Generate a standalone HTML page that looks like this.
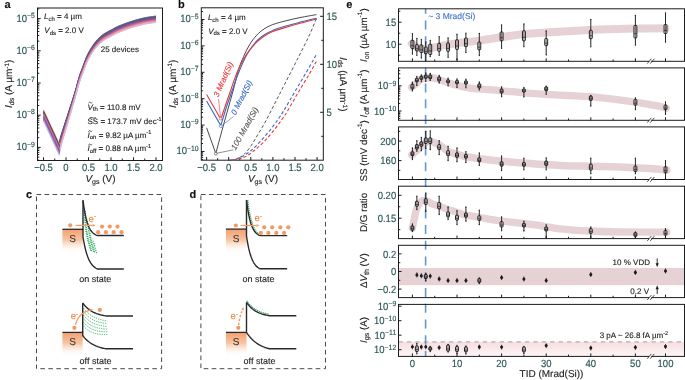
<!DOCTYPE html>
<html><head><meta charset="utf-8"><style>
html,body{margin:0;padding:0;background:#fff;}
svg{display:block;font-family:"Liberation Sans", sans-serif;will-change:transform;text-rendering:geometricPrecision;}
</style></head><body>
<svg width="685" height="380" viewBox="0 0 685 380">
<rect width="685" height="380" fill="#fff"/>
<path d="M59.3,143.73 C59.56,142.4 59.47,140.71 60.91,135.72 C62.36,130.73 65.62,121.16 67.98,113.8 C70.34,106.43 73.2,97.78 75.09,91.55 C76.98,85.32 77.82,81.12 79.32,76.41 C80.82,71.71 82.78,66.81 84.09,63.31 C85.4,59.81 85.96,58.05 87.19,55.42 C88.43,52.79 89.83,50.16 91.52,47.53 C93.2,44.89 95.27,41.88 97.32,39.61 C99.37,37.34 101.52,35.5 103.8,33.91 C106.08,32.31 108.72,31.27 111,30.04 C113.28,28.82 114.19,27.96 117.48,26.53 C120.76,25.11 126.32,22.95 130.71,21.51 C135.1,20.07 139.59,18.82 143.81,17.9 C148.02,16.99 153.97,16.32 156,16" fill="none" stroke="rgb(115, 115, 135)" stroke-width="1" stroke-opacity="0.9"/>
<path d="M59.3,144.21 C59.56,142.87 59.47,141.18 60.91,136.18 C62.36,131.17 65.62,121.55 67.98,114.16 C70.34,106.76 73.2,98.06 75.09,91.82 C76.98,85.57 77.82,81.39 79.32,76.68 C80.82,71.98 82.78,67.08 84.09,63.58 C85.4,60.08 85.96,58.32 87.19,55.69 C88.43,53.06 89.83,50.43 91.52,47.8 C93.2,45.16 95.27,42.15 97.32,39.88 C99.37,37.61 101.52,35.77 103.8,34.18 C106.08,32.58 108.72,31.54 111,30.31 C113.28,29.09 114.19,28.23 117.48,26.81 C120.76,25.38 126.32,23.22 130.71,21.78 C135.1,20.34 139.59,19.09 143.81,18.18 C148.02,17.26 153.97,16.59 156,16.28" fill="none" stroke="rgb(106, 106, 130)" stroke-width="1" stroke-opacity="0.9"/>
<path d="M59.3,144.68 C59.56,143.34 59.47,141.66 60.91,136.63 C62.36,131.6 65.62,121.94 67.98,114.52 C70.34,107.1 73.2,98.35 75.09,92.09 C76.98,85.83 77.82,81.66 79.32,76.95 C80.82,72.25 82.78,67.35 84.09,63.85 C85.4,60.35 85.96,58.59 87.19,55.96 C88.43,53.33 89.83,50.71 91.52,48.07 C93.2,45.44 95.27,42.42 97.32,40.15 C99.37,37.88 101.52,36.04 103.8,34.45 C106.08,32.86 108.72,31.81 111,30.59 C113.28,29.36 114.19,28.5 117.48,27.08 C120.76,25.65 126.32,23.49 130.71,22.05 C135.1,20.61 139.59,19.36 143.81,18.45 C148.02,17.53 153.97,16.86 156,16.55" fill="none" stroke="rgb(98, 98, 125)" stroke-width="1" stroke-opacity="0.9"/>
<path d="M59.3,145.16 C59.56,143.81 59.47,142.13 60.91,137.08 C62.36,132.04 65.62,122.34 67.98,114.88 C70.34,107.43 73.2,98.63 75.09,92.36 C76.98,86.08 77.82,81.93 79.32,77.22 C80.82,72.52 82.78,67.62 84.09,64.12 C85.4,60.62 85.96,58.86 87.19,56.23 C88.43,53.6 89.83,50.98 91.52,48.34 C93.2,45.71 95.27,42.69 97.32,40.42 C99.37,38.15 101.52,36.31 103.8,34.72 C106.08,33.13 108.72,32.09 111,30.86 C113.28,29.63 114.19,28.77 117.48,27.35 C120.76,25.92 126.32,23.76 130.71,22.32 C135.1,20.89 139.59,19.63 143.81,18.72 C148.02,17.8 153.97,17.13 156,16.82" fill="none" stroke="rgb(90, 90, 120)" stroke-width="1" stroke-opacity="0.9"/>
<path d="M59.3,145.63 C59.56,144.28 59.47,142.6 60.91,137.54 C62.36,132.47 65.62,122.73 67.98,115.24 C70.34,107.76 73.2,98.92 75.09,92.63 C76.98,86.34 77.82,82.2 79.32,77.5 C80.82,72.79 82.78,67.89 84.09,64.39 C85.4,60.89 85.96,59.13 87.19,56.5 C88.43,53.87 89.83,51.25 91.52,48.61 C93.2,45.98 95.27,42.96 97.32,40.69 C99.37,38.42 101.52,36.59 103.8,34.99 C106.08,33.4 108.72,32.36 111,31.13 C113.28,29.9 114.19,29.04 117.48,27.62 C120.76,26.2 126.32,24.03 130.71,22.59 C135.1,21.16 139.59,19.91 143.81,18.99 C148.02,18.07 153.97,17.4 156,17.09" fill="none" stroke="rgb(86, 85, 120)" stroke-width="1" stroke-opacity="0.9"/>
<path d="M59.3,146.11 C59.56,144.75 59.47,143.08 60.91,137.99 C62.36,132.91 65.62,123.12 67.98,115.61 C70.34,108.09 73.2,99.21 75.09,92.9 C76.98,86.59 77.82,82.47 79.32,77.77 C80.82,73.06 82.78,68.16 84.09,64.66 C85.4,61.16 85.96,59.4 87.19,56.77 C88.43,54.14 89.83,51.52 91.52,48.88 C93.2,46.25 95.27,43.23 97.32,40.96 C99.37,38.69 101.52,36.86 103.8,35.26 C106.08,33.67 108.72,32.63 111,31.4 C113.28,30.17 114.19,29.31 117.48,27.89 C120.76,26.47 126.32,24.3 130.71,22.87 C135.1,21.43 139.59,20.18 143.81,19.26 C148.02,18.34 153.97,17.68 156,17.36" fill="none" stroke="rgb(90, 85, 127)" stroke-width="1" stroke-opacity="0.9"/>
<path d="M59.3,146.58 C59.56,145.23 59.47,143.55 60.91,138.45 C62.36,133.34 65.62,123.52 67.98,115.97 C70.34,108.42 73.2,99.49 75.09,93.17 C76.98,86.85 77.82,82.74 79.32,78.04 C80.82,73.33 82.78,68.43 84.09,64.93 C85.4,61.43 85.96,59.67 87.19,57.04 C88.43,54.41 89.83,51.79 91.52,49.15 C93.2,46.52 95.27,43.5 97.32,41.23 C99.37,38.96 101.52,37.13 103.8,35.53 C106.08,33.94 108.72,32.9 111,31.67 C113.28,30.44 114.19,29.58 117.48,28.16 C120.76,26.74 126.32,24.57 130.71,23.14 C135.1,21.7 139.59,20.45 143.81,19.53 C148.02,18.61 153.97,17.95 156,17.63" fill="none" stroke="rgb(95, 85, 134)" stroke-width="1" stroke-opacity="0.9"/>
<path d="M59.3,147.06 C59.56,145.7 59.47,144.02 60.91,138.9 C62.36,133.78 65.62,123.91 67.98,116.33 C70.34,108.76 73.2,99.78 75.09,93.44 C76.98,87.1 77.82,83.01 79.32,78.31 C80.82,73.6 82.78,68.7 84.09,65.2 C85.4,61.7 85.96,59.94 87.19,57.31 C88.43,54.68 89.83,52.06 91.52,49.42 C93.2,46.79 95.27,43.77 97.32,41.5 C99.37,39.23 101.52,37.4 103.8,35.8 C106.08,34.21 108.72,33.17 111,31.94 C113.28,30.71 114.19,29.85 117.48,28.43 C120.76,27.01 126.32,24.85 130.71,23.41 C135.1,21.97 139.59,20.72 143.81,19.8 C148.02,18.88 153.97,18.22 156,17.9" fill="none" stroke="rgb(99, 85, 140)" stroke-width="1" stroke-opacity="0.9"/>
<path d="M59.3,147.53 C59.56,146.17 59.47,144.49 60.91,139.35 C62.36,134.21 65.62,124.3 67.98,116.69 C70.34,109.09 73.2,100.07 75.09,93.71 C76.98,87.36 77.82,83.29 79.32,78.58 C80.82,73.87 82.78,68.97 84.09,65.47 C85.4,61.97 85.96,60.21 87.19,57.58 C88.43,54.95 89.83,52.33 91.52,49.7 C93.2,47.06 95.27,44.04 97.32,41.77 C99.37,39.5 101.52,37.67 103.8,36.07 C106.08,34.48 108.72,33.44 111,32.21 C113.28,30.98 114.19,30.12 117.48,28.7 C120.76,27.28 126.32,25.12 130.71,23.68 C135.1,22.24 139.59,20.99 143.81,20.07 C148.02,19.15 153.97,18.49 156,18.17" fill="none" stroke="rgb(103, 85, 147)" stroke-width="1" stroke-opacity="0.9"/>
<path d="M59.3,148.01 C59.56,146.64 59.47,144.97 60.91,139.81 C62.36,134.65 65.62,124.69 67.98,117.06 C70.34,109.42 73.2,100.35 75.09,93.98 C76.98,87.62 77.82,83.56 79.32,78.85 C80.82,74.14 82.78,69.24 84.09,65.74 C85.4,62.25 85.96,60.48 87.19,57.86 C88.43,55.23 89.83,52.6 91.52,49.97 C93.2,47.33 95.27,44.31 97.32,42.04 C99.37,39.77 101.52,37.94 103.8,36.35 C106.08,34.75 108.72,33.71 111,32.48 C113.28,31.25 114.19,30.39 117.48,28.97 C120.76,27.55 126.32,25.39 130.71,23.95 C135.1,22.51 139.59,21.26 143.81,20.34 C148.02,19.42 153.97,18.76 156,18.44" fill="none" stroke="rgb(110, 85, 152)" stroke-width="1" stroke-opacity="0.9"/>
<path d="M59.3,148.48 C59.56,147.11 59.47,145.44 60.91,140.26 C62.36,135.08 65.62,125.09 67.98,117.42 C70.34,109.75 73.2,100.64 75.09,94.25 C76.98,87.87 77.82,83.83 79.32,79.12 C80.82,74.41 82.78,69.51 84.09,66.01 C85.4,62.52 85.96,60.76 87.19,58.13 C88.43,55.5 89.83,52.87 91.52,50.24 C93.2,47.6 95.27,44.59 97.32,42.32 C99.37,40.05 101.52,38.21 103.8,36.62 C106.08,35.02 108.72,33.98 111,32.75 C113.28,31.52 114.19,30.66 117.48,29.24 C120.76,27.82 126.32,25.66 130.71,24.22 C135.1,22.78 139.59,21.53 143.81,20.61 C148.02,19.7 153.97,19.03 156,18.71" fill="none" stroke="rgb(118, 87, 156)" stroke-width="1" stroke-opacity="0.9"/>
<path d="M59.3,148.96 C59.56,147.58 59.47,145.91 60.91,140.72 C62.36,135.52 65.62,125.48 67.98,117.78 C70.34,110.08 73.2,100.92 75.09,94.53 C76.98,88.13 77.82,84.1 79.32,79.39 C80.82,74.68 82.78,69.78 84.09,66.29 C85.4,62.79 85.96,61.03 87.19,58.4 C88.43,55.77 89.83,53.14 91.52,50.51 C93.2,47.87 95.27,44.86 97.32,42.59 C99.37,40.32 101.52,38.48 103.8,36.89 C106.08,35.29 108.72,34.25 111,33.02 C113.28,31.79 114.19,30.94 117.48,29.51 C120.76,28.09 126.32,25.93 130.71,24.49 C135.1,23.05 139.59,21.8 143.81,20.88 C148.02,19.97 153.97,19.3 156,18.98" fill="none" stroke="rgb(126, 88, 160)" stroke-width="1" stroke-opacity="0.9"/>
<path d="M59.3,149.43 C59.56,148.06 59.47,146.38 60.91,141.17 C62.36,135.96 65.62,125.87 67.98,118.14 C70.34,110.42 73.2,101.21 75.09,94.8 C76.98,88.38 77.82,84.37 79.32,79.66 C80.82,74.96 82.78,70.06 84.09,66.56 C85.4,63.06 85.96,61.3 87.19,58.67 C88.43,56.04 89.83,53.41 91.52,50.78 C93.2,48.14 95.27,45.13 97.32,42.86 C99.37,40.59 101.52,38.75 103.8,37.16 C106.08,35.56 108.72,34.52 111,33.29 C113.28,32.07 114.19,31.21 117.48,29.78 C120.76,28.36 126.32,26.2 130.71,24.76 C135.1,23.32 139.59,22.07 143.81,21.15 C148.02,20.24 153.97,19.57 156,19.25" fill="none" stroke="rgb(135, 90, 165)" stroke-width="1" stroke-opacity="0.9"/>
<path d="M59.3,149.91 C59.56,148.53 59.47,146.86 60.91,141.62 C62.36,136.39 65.62,126.27 67.98,118.51 C70.34,110.75 73.2,101.5 75.09,95.07 C76.98,88.64 77.82,84.64 79.32,79.93 C80.82,75.23 82.78,70.33 84.09,66.83 C85.4,63.33 85.96,61.57 87.19,58.94 C88.43,56.31 89.83,53.68 91.52,51.05 C93.2,48.41 95.27,45.4 97.32,43.13 C99.37,40.86 101.52,39.02 103.8,37.43 C106.08,35.83 108.72,34.79 111,33.56 C113.28,32.34 114.19,31.48 117.48,30.06 C120.76,28.63 126.32,26.47 130.71,25.03 C135.1,23.59 139.59,22.34 143.81,21.43 C148.02,20.51 153.97,19.84 156,19.53" fill="none" stroke="rgb(157, 93, 159)" stroke-width="1" stroke-opacity="0.9"/>
<path d="M59.3,150.38 C59.56,149 59.47,147.33 60.91,142.08 C62.36,136.83 65.62,126.66 67.98,118.87 C70.34,111.08 73.2,101.78 75.09,95.34 C76.98,88.89 77.82,84.91 79.32,80.2 C80.82,75.5 82.78,70.6 84.09,67.1 C85.4,63.6 85.96,61.84 87.19,59.21 C88.43,56.58 89.83,53.96 91.52,51.32 C93.2,48.69 95.27,45.67 97.32,43.4 C99.37,41.13 101.52,39.29 103.8,37.7 C106.08,36.11 108.72,35.06 111,33.84 C113.28,32.61 114.19,31.75 117.48,30.33 C120.76,28.9 126.32,26.74 130.71,25.3 C135.1,23.86 139.59,22.61 143.81,21.7 C148.02,20.78 153.97,20.11 156,19.8" fill="none" stroke="rgb(180, 96, 154)" stroke-width="1" stroke-opacity="0.9"/>
<path d="M59.3,150.86 C59.56,149.47 59.47,147.8 60.91,142.53 C62.36,137.26 65.62,127.05 67.98,119.23 C70.34,111.41 73.2,102.07 75.09,95.61 C76.98,89.15 77.82,85.18 79.32,80.47 C80.82,75.77 82.78,70.87 84.09,67.37 C85.4,63.87 85.96,62.11 87.19,59.48 C88.43,56.85 89.83,54.23 91.52,51.59 C93.2,48.96 95.27,45.94 97.32,43.67 C99.37,41.4 101.52,39.56 103.8,37.97 C106.08,36.38 108.72,35.34 111,34.11 C113.28,32.88 114.19,32.02 117.48,30.6 C120.76,29.17 126.32,27.01 130.71,25.57 C135.1,24.14 139.59,22.88 143.81,21.97 C148.02,21.05 153.97,20.38 156,20.07" fill="none" stroke="rgb(201, 100, 149)" stroke-width="1" stroke-opacity="0.9"/>
<path d="M59.3,151.33 C59.56,149.94 59.47,148.28 60.91,142.99 C62.36,137.7 65.62,127.44 67.98,119.59 C70.34,111.74 73.2,102.35 75.09,95.88 C76.98,89.4 77.82,85.45 79.32,80.75 C80.82,76.04 82.78,71.14 84.09,67.64 C85.4,64.14 85.96,62.38 87.19,59.75 C88.43,57.12 89.83,54.5 91.52,51.86 C93.2,49.23 95.27,46.21 97.32,43.94 C99.37,41.67 101.52,39.84 103.8,38.24 C106.08,36.65 108.72,35.61 111,34.38 C113.28,33.15 114.19,32.29 117.48,30.87 C120.76,29.45 126.32,27.28 130.71,25.84 C135.1,24.41 139.59,23.16 143.81,22.24 C148.02,21.32 153.97,20.65 156,20.34" fill="none" stroke="rgb(214, 108, 142)" stroke-width="1" stroke-opacity="0.9"/>
<path d="M59.3,151.81 C59.56,150.41 59.47,148.75 60.91,143.44 C62.36,138.13 65.62,127.84 67.98,119.96 C70.34,112.07 73.2,102.64 75.09,96.15 C76.98,89.66 77.82,85.72 79.32,81.02 C80.82,76.31 82.78,71.41 84.09,67.91 C85.4,64.41 85.96,62.65 87.19,60.02 C88.43,57.39 89.83,54.77 91.52,52.13 C93.2,49.5 95.27,46.48 97.32,44.21 C99.37,41.94 101.52,40.11 103.8,38.51 C106.08,36.92 108.72,35.88 111,34.65 C113.28,33.42 114.19,32.56 117.48,31.14 C120.76,29.72 126.32,27.55 130.71,26.12 C135.1,24.68 139.59,23.43 143.81,22.51 C148.02,21.59 153.97,20.93 156,20.61" fill="none" stroke="rgb(227, 116, 135)" stroke-width="1" stroke-opacity="0.9"/>
<path d="M59.3,152.28 C59.56,150.88 59.47,149.22 60.91,143.89 C62.36,138.57 65.62,128.23 67.98,120.32 C70.34,112.41 73.2,102.93 75.09,96.42 C76.98,89.92 77.82,85.99 79.32,81.29 C80.82,76.58 82.78,71.68 84.09,68.18 C85.4,64.68 85.96,62.92 87.19,60.29 C88.43,57.66 89.83,55.04 91.52,52.4 C93.2,49.77 95.27,46.75 97.32,44.48 C99.37,42.21 101.52,40.38 103.8,38.78 C106.08,37.19 108.72,36.15 111,34.92 C113.28,33.69 114.19,32.83 117.48,31.41 C120.76,29.99 126.32,27.82 130.71,26.39 C135.1,24.95 139.59,23.7 143.81,22.78 C148.02,21.86 153.97,21.2 156,20.88" fill="none" stroke="rgb(240, 125, 128)" stroke-width="1" stroke-opacity="0.9"/>
<path d="M59.3,152.76 C59.56,151.36 59.47,149.69 60.91,144.35 C62.36,139 65.62,128.62 67.98,120.68 C70.34,112.74 73.2,103.21 75.09,96.69 C76.98,90.17 77.82,86.26 79.32,81.56 C80.82,76.85 82.78,71.95 84.09,68.45 C85.4,64.95 85.96,63.19 87.19,60.56 C88.43,57.93 89.83,55.31 91.52,52.67 C93.2,50.04 95.27,47.02 97.32,44.75 C99.37,42.48 101.52,40.65 103.8,39.05 C106.08,37.46 108.72,36.42 111,35.19 C113.28,33.96 114.19,33.1 117.48,31.68 C120.76,30.26 126.32,28.1 130.71,26.66 C135.1,25.22 139.59,23.97 143.81,23.05 C148.02,22.13 153.97,21.47 156,21.15" fill="none" stroke="rgb(241, 136, 135)" stroke-width="1" stroke-opacity="0.9"/>
<path d="M59.3,153.23 C59.56,151.83 59.47,150.17 60.91,144.8 C62.36,139.44 65.62,129.02 67.98,121.04 C70.34,113.07 73.2,103.5 75.09,96.96 C76.98,90.43 77.82,86.54 79.32,81.83 C80.82,77.12 82.78,72.22 84.09,68.72 C85.4,65.22 85.96,63.46 87.19,60.83 C88.43,58.2 89.83,55.58 91.52,52.95 C93.2,50.31 95.27,47.29 97.32,45.02 C99.37,42.75 101.52,40.92 103.8,39.32 C106.08,37.73 108.72,36.69 111,35.46 C113.28,34.23 114.19,33.37 117.48,31.95 C120.76,30.53 126.32,28.37 130.71,26.93 C135.1,25.49 139.59,24.24 143.81,23.32 C148.02,22.4 153.97,21.74 156,21.42" fill="none" stroke="rgb(243, 148, 142)" stroke-width="1" stroke-opacity="0.9"/>
<path d="M59.3,153.71 C59.56,152.3 59.47,150.64 60.91,145.26 C62.36,139.87 65.62,129.41 67.98,121.41 C70.34,113.4 73.2,103.78 75.09,97.23 C76.98,90.68 77.82,86.81 79.32,82.1 C80.82,77.39 82.78,72.49 84.09,68.99 C85.4,65.5 85.96,63.73 87.19,61.11 C88.43,58.48 89.83,55.85 91.52,53.22 C93.2,50.58 95.27,47.56 97.32,45.29 C99.37,43.02 101.52,41.19 103.8,39.6 C106.08,38 108.72,36.96 111,35.73 C113.28,34.5 114.19,33.64 117.48,32.22 C120.76,30.8 126.32,28.64 130.71,27.2 C135.1,25.76 139.59,24.51 143.81,23.59 C148.02,22.67 153.97,22.01 156,21.69" fill="none" stroke="rgb(245, 160, 149)" stroke-width="1" stroke-opacity="0.9"/>
<path d="M59.3,154.18 C59.56,152.77 59.47,151.11 60.91,145.71 C62.36,140.31 65.62,129.8 67.98,121.77 C70.34,113.73 73.2,104.07 75.09,97.5 C76.98,90.94 77.82,87.08 79.32,82.37 C80.82,77.66 82.78,72.76 84.09,69.26 C85.4,65.77 85.96,64.01 87.19,61.38 C88.43,58.75 89.83,56.12 91.52,53.49 C93.2,50.85 95.27,47.84 97.32,45.57 C99.37,43.3 101.52,41.46 103.8,39.87 C106.08,38.27 108.72,37.23 111,36 C113.28,34.77 114.19,33.91 117.48,32.49 C120.76,31.07 126.32,28.91 130.71,27.47 C135.1,26.03 139.59,24.78 143.81,23.86 C148.02,22.95 153.97,22.28 156,21.96" fill="none" stroke="rgb(233, 170, 177)" stroke-width="1" stroke-opacity="0.9"/>
<path d="M59.3,154.66 C59.56,153.24 59.47,151.59 60.91,146.16 C62.36,140.74 65.62,130.2 67.98,122.13 C70.34,114.07 73.2,104.36 75.09,97.78 C76.98,91.19 77.82,87.35 79.32,82.64 C80.82,77.93 82.78,73.03 84.09,69.54 C85.4,66.04 85.96,64.28 87.19,61.65 C88.43,59.02 89.83,56.39 91.52,53.76 C93.2,51.12 95.27,48.11 97.32,45.84 C99.37,43.57 101.52,41.73 103.8,40.14 C106.08,38.54 108.72,37.5 111,36.27 C113.28,35.04 114.19,34.19 117.48,32.76 C120.76,31.34 126.32,29.18 130.71,27.74 C135.1,26.3 139.59,25.05 143.81,24.13 C148.02,23.22 153.97,22.55 156,22.23" fill="none" stroke="rgb(219, 180, 208)" stroke-width="1" stroke-opacity="0.9"/>
<path d="M59.3,155.13 C59.56,153.71 59.47,152.06 60.91,146.62 C62.36,141.18 65.62,130.59 67.98,122.49 C70.34,114.4 73.2,104.64 75.09,98.05 C76.98,91.45 77.82,87.62 79.32,82.91 C80.82,78.21 82.78,73.31 84.09,69.81 C85.4,66.31 85.96,64.55 87.19,61.92 C88.43,59.29 89.83,56.66 91.52,54.03 C93.2,51.39 95.27,48.38 97.32,46.11 C99.37,43.84 101.52,42 103.8,40.41 C106.08,38.81 108.72,37.77 111,36.54 C113.28,35.32 114.19,34.46 117.48,33.03 C120.76,31.61 126.32,29.45 130.71,28.01 C135.1,26.57 139.59,25.32 143.81,24.4 C148.02,23.49 153.97,22.82 156,22.5" fill="none" stroke="rgb(205, 190, 240)" stroke-width="1" stroke-opacity="0.9"/>
<path d="M43.5,109.6 L59.3,143.73" fill="none" stroke="rgb(246, 185, 150)" stroke-width="1" stroke-opacity="0.9"/>
<path d="M43.5,110.08 L59.3,144.21" fill="none" stroke="rgb(222, 166, 144)" stroke-width="1" stroke-opacity="0.9"/>
<path d="M43.5,110.55 L59.3,144.68" fill="none" stroke="rgb(194, 146, 138)" stroke-width="1" stroke-opacity="0.9"/>
<path d="M43.5,111.03 L59.3,145.16" fill="none" stroke="rgb(129, 106, 117)" stroke-width="1" stroke-opacity="0.9"/>
<path d="M43.5,111.5 L59.3,145.63" fill="none" stroke="rgb(75, 72, 100)" stroke-width="1" stroke-opacity="0.9"/>
<path d="M43.5,111.98 L59.3,146.11" fill="none" stroke="rgb(80, 74, 105)" stroke-width="1" stroke-opacity="0.9"/>
<path d="M43.5,112.45 L59.3,146.58" fill="none" stroke="rgb(84, 77, 109)" stroke-width="1" stroke-opacity="0.9"/>
<path d="M43.5,112.93 L59.3,147.06" fill="none" stroke="rgb(89, 79, 114)" stroke-width="1" stroke-opacity="0.9"/>
<path d="M43.5,113.4 L59.3,147.53" fill="none" stroke="rgb(127, 91, 119)" stroke-width="1" stroke-opacity="0.9"/>
<path d="M43.5,113.88 L59.3,148.01" fill="none" stroke="rgb(174, 105, 124)" stroke-width="1" stroke-opacity="0.9"/>
<path d="M43.5,114.35 L59.3,148.48" fill="none" stroke="rgb(221, 118, 129)" stroke-width="1" stroke-opacity="0.9"/>
<path d="M43.5,114.83 L59.3,148.96" fill="none" stroke="rgb(217, 114, 135)" stroke-width="1" stroke-opacity="0.9"/>
<path d="M43.5,115.3 L59.3,149.43" fill="none" stroke="rgb(209, 107, 142)" stroke-width="1" stroke-opacity="0.9"/>
<path d="M43.5,115.78 L59.3,149.91" fill="none" stroke="rgb(201, 101, 148)" stroke-width="1" stroke-opacity="0.9"/>
<path d="M43.5,116.25 L59.3,150.38" fill="none" stroke="rgb(183, 97, 153)" stroke-width="1" stroke-opacity="0.9"/>
<path d="M43.5,116.73 L59.3,150.86" fill="none" stroke="rgb(162, 94, 157)" stroke-width="1" stroke-opacity="0.9"/>
<path d="M43.5,117.2 L59.3,151.33" fill="none" stroke="rgb(141, 90, 161)" stroke-width="1" stroke-opacity="0.9"/>
<path d="M43.5,117.68 L59.3,151.81" fill="none" stroke="rgb(125, 89, 166)" stroke-width="1" stroke-opacity="0.9"/>
<path d="M43.5,118.15 L59.3,152.28" fill="none" stroke="rgb(129, 94, 171)" stroke-width="1" stroke-opacity="0.9"/>
<path d="M43.5,118.63 L59.3,152.76" fill="none" stroke="rgb(132, 99, 177)" stroke-width="1" stroke-opacity="0.9"/>
<path d="M43.5,119.1 L59.3,153.23" fill="none" stroke="rgb(136, 104, 183)" stroke-width="1" stroke-opacity="0.9"/>
<path d="M43.5,119.58 L59.3,153.71" fill="none" stroke="rgb(139, 109, 189)" stroke-width="1" stroke-opacity="0.9"/>
<path d="M43.5,120.05 L59.3,154.18" fill="none" stroke="rgb(158, 132, 205)" stroke-width="1" stroke-opacity="0.9"/>
<path d="M43.5,120.53 L59.3,154.66" fill="none" stroke="rgb(179, 158, 222)" stroke-width="1" stroke-opacity="0.9"/>
<path d="M43.5,121 L59.3,155.13" fill="none" stroke="rgb(200, 185, 240)" stroke-width="1" stroke-opacity="0.9"/>
<rect x="37.5" y="8" width="125.0" height="152.5" fill="none" stroke="#1c1c1c" stroke-width="1"/>
<line x1="43.5" y1="160.5" x2="43.5" y2="157.3" stroke="#1c1c1c" stroke-width="1" />
<text transform="translate(43.5,171.2) scale(1,1.1)" font-size="9.5" fill="#2b5656" text-anchor="middle" stroke="#2b5656" stroke-width="0.15">−0.5</text>
<line x1="54.75" y1="160.5" x2="54.75" y2="158.5" stroke="#1c1c1c" stroke-width="1" />
<line x1="66" y1="160.5" x2="66" y2="157.3" stroke="#1c1c1c" stroke-width="1" />
<text transform="translate(66,171.2) scale(1,1.1)" font-size="9.5" fill="#2b5656" text-anchor="middle" stroke="#2b5656" stroke-width="0.15">0</text>
<line x1="77.25" y1="160.5" x2="77.25" y2="158.5" stroke="#1c1c1c" stroke-width="1" />
<line x1="88.5" y1="160.5" x2="88.5" y2="157.3" stroke="#1c1c1c" stroke-width="1" />
<text transform="translate(88.5,171.2) scale(1,1.1)" font-size="9.5" fill="#2b5656" text-anchor="middle" stroke="#2b5656" stroke-width="0.15">0.5</text>
<line x1="99.75" y1="160.5" x2="99.75" y2="158.5" stroke="#1c1c1c" stroke-width="1" />
<line x1="111" y1="160.5" x2="111" y2="157.3" stroke="#1c1c1c" stroke-width="1" />
<text transform="translate(111,171.2) scale(1,1.1)" font-size="9.5" fill="#2b5656" text-anchor="middle" stroke="#2b5656" stroke-width="0.15">1.0</text>
<line x1="122.25" y1="160.5" x2="122.25" y2="158.5" stroke="#1c1c1c" stroke-width="1" />
<line x1="133.5" y1="160.5" x2="133.5" y2="157.3" stroke="#1c1c1c" stroke-width="1" />
<text transform="translate(133.5,171.2) scale(1,1.1)" font-size="9.5" fill="#2b5656" text-anchor="middle" stroke="#2b5656" stroke-width="0.15">1.5</text>
<line x1="144.75" y1="160.5" x2="144.75" y2="158.5" stroke="#1c1c1c" stroke-width="1" />
<line x1="156" y1="160.5" x2="156" y2="157.3" stroke="#1c1c1c" stroke-width="1" />
<text transform="translate(156,171.2) scale(1,1.1)" font-size="9.5" fill="#2b5656" text-anchor="middle" stroke="#2b5656" stroke-width="0.15">2.0</text>
<line x1="37.5" y1="147.4" x2="40.7" y2="147.4" stroke="#1c1c1c" stroke-width="1" />
<text transform="translate(34.8,150.3) scale(1,1.1)" font-size="9.5" fill="#2b5656" text-anchor="end" stroke="#2b5656" stroke-width="0.15"><tspan>10</tspan><tspan dy="-3.4" font-size="6.84">−9</tspan></text>
<line x1="37.5" y1="137.71" x2="39.3" y2="137.71" stroke="#1c1c1c" stroke-width="1" />
<line x1="37.5" y1="132.04" x2="39.3" y2="132.04" stroke="#1c1c1c" stroke-width="1" />
<line x1="37.5" y1="128.01" x2="39.3" y2="128.01" stroke="#1c1c1c" stroke-width="1" />
<line x1="37.5" y1="124.89" x2="39.3" y2="124.89" stroke="#1c1c1c" stroke-width="1" />
<line x1="37.5" y1="122.34" x2="39.3" y2="122.34" stroke="#1c1c1c" stroke-width="1" />
<line x1="37.5" y1="120.19" x2="39.3" y2="120.19" stroke="#1c1c1c" stroke-width="1" />
<line x1="37.5" y1="118.32" x2="39.3" y2="118.32" stroke="#1c1c1c" stroke-width="1" />
<line x1="37.5" y1="116.67" x2="39.3" y2="116.67" stroke="#1c1c1c" stroke-width="1" />
<line x1="37.5" y1="115.2" x2="40.7" y2="115.2" stroke="#1c1c1c" stroke-width="1" />
<text transform="translate(34.8,118.1) scale(1,1.1)" font-size="9.5" fill="#2b5656" text-anchor="end" stroke="#2b5656" stroke-width="0.15"><tspan>10</tspan><tspan dy="-3.4" font-size="6.84">−8</tspan></text>
<line x1="37.5" y1="105.51" x2="39.3" y2="105.51" stroke="#1c1c1c" stroke-width="1" />
<line x1="37.5" y1="99.84" x2="39.3" y2="99.84" stroke="#1c1c1c" stroke-width="1" />
<line x1="37.5" y1="95.81" x2="39.3" y2="95.81" stroke="#1c1c1c" stroke-width="1" />
<line x1="37.5" y1="92.69" x2="39.3" y2="92.69" stroke="#1c1c1c" stroke-width="1" />
<line x1="37.5" y1="90.14" x2="39.3" y2="90.14" stroke="#1c1c1c" stroke-width="1" />
<line x1="37.5" y1="87.99" x2="39.3" y2="87.99" stroke="#1c1c1c" stroke-width="1" />
<line x1="37.5" y1="86.12" x2="39.3" y2="86.12" stroke="#1c1c1c" stroke-width="1" />
<line x1="37.5" y1="84.47" x2="39.3" y2="84.47" stroke="#1c1c1c" stroke-width="1" />
<line x1="37.5" y1="83" x2="40.7" y2="83" stroke="#1c1c1c" stroke-width="1" />
<text transform="translate(34.8,85.9) scale(1,1.1)" font-size="9.5" fill="#2b5656" text-anchor="end" stroke="#2b5656" stroke-width="0.15"><tspan>10</tspan><tspan dy="-3.4" font-size="6.84">−7</tspan></text>
<line x1="37.5" y1="73.31" x2="39.3" y2="73.31" stroke="#1c1c1c" stroke-width="1" />
<line x1="37.5" y1="67.64" x2="39.3" y2="67.64" stroke="#1c1c1c" stroke-width="1" />
<line x1="37.5" y1="63.61" x2="39.3" y2="63.61" stroke="#1c1c1c" stroke-width="1" />
<line x1="37.5" y1="60.49" x2="39.3" y2="60.49" stroke="#1c1c1c" stroke-width="1" />
<line x1="37.5" y1="57.94" x2="39.3" y2="57.94" stroke="#1c1c1c" stroke-width="1" />
<line x1="37.5" y1="55.79" x2="39.3" y2="55.79" stroke="#1c1c1c" stroke-width="1" />
<line x1="37.5" y1="53.92" x2="39.3" y2="53.92" stroke="#1c1c1c" stroke-width="1" />
<line x1="37.5" y1="52.27" x2="39.3" y2="52.27" stroke="#1c1c1c" stroke-width="1" />
<line x1="37.5" y1="50.8" x2="40.7" y2="50.8" stroke="#1c1c1c" stroke-width="1" />
<text transform="translate(34.8,53.7) scale(1,1.1)" font-size="9.5" fill="#2b5656" text-anchor="end" stroke="#2b5656" stroke-width="0.15"><tspan>10</tspan><tspan dy="-3.4" font-size="6.84">−6</tspan></text>
<line x1="37.5" y1="41.11" x2="39.3" y2="41.11" stroke="#1c1c1c" stroke-width="1" />
<line x1="37.5" y1="35.44" x2="39.3" y2="35.44" stroke="#1c1c1c" stroke-width="1" />
<line x1="37.5" y1="31.41" x2="39.3" y2="31.41" stroke="#1c1c1c" stroke-width="1" />
<line x1="37.5" y1="28.29" x2="39.3" y2="28.29" stroke="#1c1c1c" stroke-width="1" />
<line x1="37.5" y1="25.74" x2="39.3" y2="25.74" stroke="#1c1c1c" stroke-width="1" />
<line x1="37.5" y1="23.59" x2="39.3" y2="23.59" stroke="#1c1c1c" stroke-width="1" />
<line x1="37.5" y1="21.72" x2="39.3" y2="21.72" stroke="#1c1c1c" stroke-width="1" />
<line x1="37.5" y1="20.07" x2="39.3" y2="20.07" stroke="#1c1c1c" stroke-width="1" />
<line x1="37.5" y1="18.6" x2="40.7" y2="18.6" stroke="#1c1c1c" stroke-width="1" />
<text transform="translate(34.8,21.5) scale(1,1.1)" font-size="9.5" fill="#2b5656" text-anchor="end" stroke="#2b5656" stroke-width="0.15"><tspan>10</tspan><tspan dy="-3.4" font-size="6.84">−5</tspan></text>
<line x1="37.5" y1="8.91" x2="39.3" y2="8.91" stroke="#1c1c1c" stroke-width="1" />
<line x1="37.5" y1="160.21" x2="39.3" y2="160.21" stroke="#1c1c1c" stroke-width="1" />
<line x1="37.5" y1="157.09" x2="39.3" y2="157.09" stroke="#1c1c1c" stroke-width="1" />
<line x1="37.5" y1="154.54" x2="39.3" y2="154.54" stroke="#1c1c1c" stroke-width="1" />
<line x1="37.5" y1="152.39" x2="39.3" y2="152.39" stroke="#1c1c1c" stroke-width="1" />
<line x1="37.5" y1="150.52" x2="39.3" y2="150.52" stroke="#1c1c1c" stroke-width="1" />
<line x1="37.5" y1="148.87" x2="39.3" y2="148.87" stroke="#1c1c1c" stroke-width="1" />
<text stroke="#1c1c1c" stroke-width="0.12" transform="translate(12.1,83.8) rotate(-90)" font-size="10" fill="#1c1c1c" text-anchor="middle"><tspan font-style="italic">I</tspan><tspan font-size="7" dy="2">ds</tspan><tspan dy="-2"> (A µm</tspan><tspan font-size="6.5" dy="-3.5">-1</tspan><tspan dy="3.5">)</tspan></text>
<text stroke="#1c1c1c" stroke-width="0.12" x="100.5" y="182.3" font-size="10" fill="#1c1c1c" text-anchor="middle"><tspan font-style="italic">V</tspan><tspan font-size="7" dy="2">gs</tspan><tspan dy="-2"> (V)</tspan></text>
<text stroke="#111" stroke-width="0.12" x="4.6" y="8" font-size="11" font-weight="bold" fill="#111">a</text>
<text stroke="#1c1c1c" stroke-width="0.12" x="44" y="19" font-size="8" fill="#1c1c1c"><tspan font-style="italic">L</tspan><tspan font-size="6" dy="1.6">ch</tspan><tspan dy="-1.6"> = 4 µm</tspan></text>
<text stroke="#1c1c1c" stroke-width="0.12" x="44.3" y="33.4" font-size="8" fill="#1c1c1c"><tspan font-style="italic">V</tspan><tspan font-size="6" dy="1.6">ds</tspan><tspan dy="-1.6"> = 2.0 V</tspan></text>
<text stroke="#1c1c1c" stroke-width="0.12" x="100.7" y="52" font-size="8" fill="#1c1c1c" text-anchor="start" >25 devices</text>
<text stroke="#1c1c1c" stroke-width="0.12" x="87.5" y="109.8" font-size="8" fill="#1c1c1c"><tspan font-style="italic">V</tspan><tspan font-size="6" dy="1.6">th</tspan><tspan dy="-1.6"> = 110.8 mV</tspan></text>
<text stroke="#1c1c1c" stroke-width="0.12" x="87.5" y="124.3" font-size="8" fill="#1c1c1c"><tspan>SS</tspan><tspan> = 173.7 mV dec</tspan><tspan font-size="5.5" dy="-3.3">-1</tspan></text>
<text stroke="#1c1c1c" stroke-width="0.12" x="87.5" y="137.6" font-size="8" fill="#1c1c1c"><tspan font-style="italic">I</tspan><tspan font-size="6" dy="1.6">on</tspan><tspan dy="-1.6"> = 9.82 µA µm</tspan><tspan font-size="5.5" dy="-3.3">-1</tspan></text>
<text stroke="#1c1c1c" stroke-width="0.12" x="87.5" y="150.9" font-size="8" fill="#1c1c1c"><tspan font-style="italic">I</tspan><tspan font-size="6" dy="1.6">off</tspan><tspan dy="-1.6"> = 0.88 nA µm</tspan><tspan font-size="5.5" dy="-3.3">-1</tspan></text>
<path d="M88.5,103 q0.95,-1.5 1.9,-0.4 t1.9,-0.4" fill="none" stroke="#1c1c1c" stroke-width="0.75"/>
<path d="M89.5,118.2 q1.55,-1.5 3.1,-0.4 t3.1,-0.4" fill="none" stroke="#1c1c1c" stroke-width="0.75"/>
<path d="M88.4,131.6 q0.95,-1.5 1.9,-0.4 t1.9,-0.4" fill="none" stroke="#1c1c1c" stroke-width="0.75"/>
<path d="M88.4,144.9 q0.95,-1.5 1.9,-0.4 t1.9,-0.4" fill="none" stroke="#1c1c1c" stroke-width="0.75"/>
<rect x="201.3" y="7.8" width="122.0" height="152.39999999999998" fill="none" stroke="#1c1c1c" stroke-width="1"/>
<line x1="206.6" y1="160.2" x2="206.6" y2="157" stroke="#1c1c1c" stroke-width="1" />
<text transform="translate(206.6,171.2) scale(1,1.1)" font-size="9.5" fill="#2b5656" text-anchor="middle" stroke="#2b5656" stroke-width="0.15">−0.5</text>
<line x1="217.65" y1="160.2" x2="217.65" y2="158.2" stroke="#1c1c1c" stroke-width="1" />
<line x1="228.7" y1="160.2" x2="228.7" y2="157" stroke="#1c1c1c" stroke-width="1" />
<text transform="translate(228.7,171.2) scale(1,1.1)" font-size="9.5" fill="#2b5656" text-anchor="middle" stroke="#2b5656" stroke-width="0.15">0</text>
<line x1="239.75" y1="160.2" x2="239.75" y2="158.2" stroke="#1c1c1c" stroke-width="1" />
<line x1="250.8" y1="160.2" x2="250.8" y2="157" stroke="#1c1c1c" stroke-width="1" />
<text transform="translate(250.8,171.2) scale(1,1.1)" font-size="9.5" fill="#2b5656" text-anchor="middle" stroke="#2b5656" stroke-width="0.15">0.5</text>
<line x1="261.85" y1="160.2" x2="261.85" y2="158.2" stroke="#1c1c1c" stroke-width="1" />
<line x1="272.9" y1="160.2" x2="272.9" y2="157" stroke="#1c1c1c" stroke-width="1" />
<text transform="translate(272.9,171.2) scale(1,1.1)" font-size="9.5" fill="#2b5656" text-anchor="middle" stroke="#2b5656" stroke-width="0.15">1.0</text>
<line x1="283.95" y1="160.2" x2="283.95" y2="158.2" stroke="#1c1c1c" stroke-width="1" />
<line x1="295" y1="160.2" x2="295" y2="157" stroke="#1c1c1c" stroke-width="1" />
<text transform="translate(295,171.2) scale(1,1.1)" font-size="9.5" fill="#2b5656" text-anchor="middle" stroke="#2b5656" stroke-width="0.15">1.5</text>
<line x1="306.05" y1="160.2" x2="306.05" y2="158.2" stroke="#1c1c1c" stroke-width="1" />
<line x1="317.1" y1="160.2" x2="317.1" y2="157" stroke="#1c1c1c" stroke-width="1" />
<text transform="translate(317.1,171.2) scale(1,1.1)" font-size="9.5" fill="#2b5656" text-anchor="middle" stroke="#2b5656" stroke-width="0.15">2.0</text>
<line x1="201.3" y1="151.5" x2="204.5" y2="151.5" stroke="#1c1c1c" stroke-width="1" />
<text transform="translate(198.6,154.4) scale(1,1.1)" font-size="9.5" fill="#2b5656" text-anchor="end" stroke="#2b5656" stroke-width="0.15"><tspan>10</tspan><tspan dy="-3.4" font-size="6.84">−10</tspan></text>
<line x1="201.3" y1="125.1" x2="204.5" y2="125.1" stroke="#1c1c1c" stroke-width="1" />
<text transform="translate(198.6,128) scale(1,1.1)" font-size="9.5" fill="#2b5656" text-anchor="end" stroke="#2b5656" stroke-width="0.15"><tspan>10</tspan><tspan dy="-3.4" font-size="6.84">−9</tspan></text>
<line x1="201.3" y1="98.7" x2="204.5" y2="98.7" stroke="#1c1c1c" stroke-width="1" />
<text transform="translate(198.6,101.6) scale(1,1.1)" font-size="9.5" fill="#2b5656" text-anchor="end" stroke="#2b5656" stroke-width="0.15"><tspan>10</tspan><tspan dy="-3.4" font-size="6.84">−8</tspan></text>
<line x1="201.3" y1="72.3" x2="204.5" y2="72.3" stroke="#1c1c1c" stroke-width="1" />
<text transform="translate(198.6,75.2) scale(1,1.1)" font-size="9.5" fill="#2b5656" text-anchor="end" stroke="#2b5656" stroke-width="0.15"><tspan>10</tspan><tspan dy="-3.4" font-size="6.84">−7</tspan></text>
<line x1="201.3" y1="45.9" x2="204.5" y2="45.9" stroke="#1c1c1c" stroke-width="1" />
<text transform="translate(198.6,48.8) scale(1,1.1)" font-size="9.5" fill="#2b5656" text-anchor="end" stroke="#2b5656" stroke-width="0.15"><tspan>10</tspan><tspan dy="-3.4" font-size="6.84">−6</tspan></text>
<line x1="201.3" y1="19.5" x2="204.5" y2="19.5" stroke="#1c1c1c" stroke-width="1" />
<text transform="translate(198.6,22.4) scale(1,1.1)" font-size="9.5" fill="#2b5656" text-anchor="end" stroke="#2b5656" stroke-width="0.15"><tspan>10</tspan><tspan dy="-3.4" font-size="6.84">−5</tspan></text>
<line x1="201.3" y1="159.45" x2="203.1" y2="159.45" stroke="#1c1c1c" stroke-width="1" />
<line x1="201.3" y1="157.36" x2="203.1" y2="157.36" stroke="#1c1c1c" stroke-width="1" />
<line x1="201.3" y1="155.59" x2="203.1" y2="155.59" stroke="#1c1c1c" stroke-width="1" />
<line x1="201.3" y1="154.06" x2="203.1" y2="154.06" stroke="#1c1c1c" stroke-width="1" />
<line x1="201.3" y1="152.71" x2="203.1" y2="152.71" stroke="#1c1c1c" stroke-width="1" />
<line x1="201.3" y1="143.55" x2="203.1" y2="143.55" stroke="#1c1c1c" stroke-width="1" />
<line x1="201.3" y1="138.9" x2="203.1" y2="138.9" stroke="#1c1c1c" stroke-width="1" />
<line x1="201.3" y1="135.61" x2="203.1" y2="135.61" stroke="#1c1c1c" stroke-width="1" />
<line x1="201.3" y1="133.05" x2="203.1" y2="133.05" stroke="#1c1c1c" stroke-width="1" />
<line x1="201.3" y1="130.96" x2="203.1" y2="130.96" stroke="#1c1c1c" stroke-width="1" />
<line x1="201.3" y1="129.19" x2="203.1" y2="129.19" stroke="#1c1c1c" stroke-width="1" />
<line x1="201.3" y1="127.66" x2="203.1" y2="127.66" stroke="#1c1c1c" stroke-width="1" />
<line x1="201.3" y1="126.31" x2="203.1" y2="126.31" stroke="#1c1c1c" stroke-width="1" />
<line x1="201.3" y1="117.15" x2="203.1" y2="117.15" stroke="#1c1c1c" stroke-width="1" />
<line x1="201.3" y1="112.5" x2="203.1" y2="112.5" stroke="#1c1c1c" stroke-width="1" />
<line x1="201.3" y1="109.21" x2="203.1" y2="109.21" stroke="#1c1c1c" stroke-width="1" />
<line x1="201.3" y1="106.65" x2="203.1" y2="106.65" stroke="#1c1c1c" stroke-width="1" />
<line x1="201.3" y1="104.56" x2="203.1" y2="104.56" stroke="#1c1c1c" stroke-width="1" />
<line x1="201.3" y1="102.79" x2="203.1" y2="102.79" stroke="#1c1c1c" stroke-width="1" />
<line x1="201.3" y1="101.26" x2="203.1" y2="101.26" stroke="#1c1c1c" stroke-width="1" />
<line x1="201.3" y1="99.91" x2="203.1" y2="99.91" stroke="#1c1c1c" stroke-width="1" />
<line x1="201.3" y1="90.75" x2="203.1" y2="90.75" stroke="#1c1c1c" stroke-width="1" />
<line x1="201.3" y1="86.1" x2="203.1" y2="86.1" stroke="#1c1c1c" stroke-width="1" />
<line x1="201.3" y1="82.81" x2="203.1" y2="82.81" stroke="#1c1c1c" stroke-width="1" />
<line x1="201.3" y1="80.25" x2="203.1" y2="80.25" stroke="#1c1c1c" stroke-width="1" />
<line x1="201.3" y1="78.16" x2="203.1" y2="78.16" stroke="#1c1c1c" stroke-width="1" />
<line x1="201.3" y1="76.39" x2="203.1" y2="76.39" stroke="#1c1c1c" stroke-width="1" />
<line x1="201.3" y1="74.86" x2="203.1" y2="74.86" stroke="#1c1c1c" stroke-width="1" />
<line x1="201.3" y1="73.51" x2="203.1" y2="73.51" stroke="#1c1c1c" stroke-width="1" />
<line x1="201.3" y1="64.35" x2="203.1" y2="64.35" stroke="#1c1c1c" stroke-width="1" />
<line x1="201.3" y1="59.7" x2="203.1" y2="59.7" stroke="#1c1c1c" stroke-width="1" />
<line x1="201.3" y1="56.41" x2="203.1" y2="56.41" stroke="#1c1c1c" stroke-width="1" />
<line x1="201.3" y1="53.85" x2="203.1" y2="53.85" stroke="#1c1c1c" stroke-width="1" />
<line x1="201.3" y1="51.76" x2="203.1" y2="51.76" stroke="#1c1c1c" stroke-width="1" />
<line x1="201.3" y1="49.99" x2="203.1" y2="49.99" stroke="#1c1c1c" stroke-width="1" />
<line x1="201.3" y1="48.46" x2="203.1" y2="48.46" stroke="#1c1c1c" stroke-width="1" />
<line x1="201.3" y1="47.11" x2="203.1" y2="47.11" stroke="#1c1c1c" stroke-width="1" />
<line x1="201.3" y1="37.95" x2="203.1" y2="37.95" stroke="#1c1c1c" stroke-width="1" />
<line x1="201.3" y1="33.3" x2="203.1" y2="33.3" stroke="#1c1c1c" stroke-width="1" />
<line x1="201.3" y1="30.01" x2="203.1" y2="30.01" stroke="#1c1c1c" stroke-width="1" />
<line x1="201.3" y1="27.45" x2="203.1" y2="27.45" stroke="#1c1c1c" stroke-width="1" />
<line x1="201.3" y1="25.36" x2="203.1" y2="25.36" stroke="#1c1c1c" stroke-width="1" />
<line x1="201.3" y1="23.59" x2="203.1" y2="23.59" stroke="#1c1c1c" stroke-width="1" />
<line x1="201.3" y1="22.06" x2="203.1" y2="22.06" stroke="#1c1c1c" stroke-width="1" />
<line x1="201.3" y1="20.71" x2="203.1" y2="20.71" stroke="#1c1c1c" stroke-width="1" />
<line x1="201.3" y1="11.55" x2="203.1" y2="11.55" stroke="#1c1c1c" stroke-width="1" />
<line x1="323.3" y1="136.3" x2="321.3" y2="136.3" stroke="#1c1c1c" stroke-width="1" />
<line x1="323.3" y1="112.3" x2="320.1" y2="112.3" stroke="#1c1c1c" stroke-width="1" />
<text transform="translate(326.5,115.7) scale(1,1.1)" font-size="9.5" fill="#2b5656" text-anchor="start" stroke="#2b5656" stroke-width="0.15">5</text>
<line x1="323.3" y1="88.3" x2="321.3" y2="88.3" stroke="#1c1c1c" stroke-width="1" />
<line x1="323.3" y1="64.3" x2="320.1" y2="64.3" stroke="#1c1c1c" stroke-width="1" />
<text transform="translate(326.5,67.7) scale(1,1.1)" font-size="9.5" fill="#2b5656" text-anchor="start" stroke="#2b5656" stroke-width="0.15">10</text>
<line x1="323.3" y1="40.3" x2="321.3" y2="40.3" stroke="#1c1c1c" stroke-width="1" />
<line x1="323.3" y1="16.3" x2="320.1" y2="16.3" stroke="#1c1c1c" stroke-width="1" />
<text transform="translate(326.5,19.7) scale(1,1.1)" font-size="9.5" fill="#2b5656" text-anchor="start" stroke="#2b5656" stroke-width="0.15">15</text>
<path d="M206.6,127.8 L215.8,153.5 L215.8,153.5 C217,149.05 220.08,137.38 223,126.8 C225.92,116.22 230.7,99.55 233.3,90 C235.9,80.45 236.87,75.12 238.6,69.5 C240.33,63.88 241.88,60.42 243.7,56.3 C245.52,52.18 247.33,48.32 249.5,44.8 C251.67,41.28 254.28,37.83 256.7,35.2 C259.12,32.57 261.33,30.77 264,29 C266.67,27.23 269.2,25.93 272.7,24.6 C276.2,23.27 280.45,22.17 285,21 C289.55,19.83 294.75,18.67 300,17.6 C305.25,16.53 313.75,15.1 316.5,14.6" fill="none" stroke="#333" stroke-width="0.9"/>
<path d="M206.6,101 L220.8,125.6 L220.8,125.6 C221.72,122.58 224.37,113.43 226.3,107.5 C228.23,101.57 230.78,94.67 232.4,90 C234.02,85.33 234.82,82.75 236,79.5 C237.18,76.25 237.98,74.08 239.5,70.5 C241.02,66.92 243.18,61.7 245.1,58 C247.02,54.3 249.07,51.13 251,48.3 C252.93,45.47 254.53,43.22 256.7,41 C258.87,38.78 261.33,36.77 264,35 C266.67,33.23 269.2,31.85 272.7,30.4 C276.2,28.95 280.45,27.67 285,26.3 C289.55,24.93 294.75,23.55 300,22.2 C305.25,20.85 313.75,18.87 316.5,18.2" fill="none" stroke="#3a68c0" stroke-width="1.1"/>
<path d="M206.6,94.5 L220.8,119.2 L220.8,119.2 C221.72,116.5 224.63,107.87 226.3,103 C227.97,98.13 229.48,93.83 230.8,90 C232.12,86.17 233.02,83.25 234.2,80 C235.38,76.75 236.35,73.95 237.9,70.5 C239.45,67.05 241.57,62.68 243.5,59.3 C245.43,55.92 247.3,53.05 249.5,50.2 C251.7,47.35 254.28,44.52 256.7,42.2 C259.12,39.88 261.33,38.07 264,36.3 C266.67,34.53 269.2,33.05 272.7,31.6 C276.2,30.15 280.45,28.98 285,27.6 C289.55,26.22 294.75,24.73 300,23.3 C305.25,21.87 313.75,19.72 316.5,19" fill="none" stroke="#e8383a" stroke-width="1.1"/>
<path d="M229,160.2 C230.23,160.05 233.8,160.37 236.4,159.3 C239,158.23 242.15,156.07 244.6,153.8 C247.05,151.53 248.93,148.83 251.1,145.7 C253.27,142.57 255.15,139.12 257.6,135 C260.05,130.88 262.9,126.33 265.8,121 C268.7,115.67 271.87,109.12 275,103 C278.13,96.88 280.68,91.95 284.6,84.3 C288.52,76.65 294.35,65.33 298.5,57.1 C302.65,48.87 306.5,41.37 309.5,34.9 C312.5,28.43 315.33,21.07 316.5,18.3" fill="none" stroke="#444" stroke-width="0.9" stroke-dasharray="3.2,2.2"/>
<path d="M231,160.2 C232.72,159.67 237.95,158.62 241.3,157 C244.65,155.38 247.83,153.2 251.1,150.5 C254.37,147.8 257.63,144.33 260.9,140.8 C264.17,137.27 267.72,133.05 270.7,129.3 C273.68,125.55 276.42,121.75 278.8,118.3 C281.18,114.85 282.18,113.27 285,108.6 C287.82,103.93 291.62,97.27 295.7,90.3 C299.78,83.33 306.03,72.8 309.5,66.8 C312.97,60.8 315.33,56.38 316.5,54.3" fill="none" stroke="#3a68c0" stroke-width="1.1" stroke-dasharray="3.2,2.2"/>
<path d="M233,160.2 C234.93,159.67 241.05,158.62 244.6,157 C248.15,155.38 251.05,153.07 254.3,150.5 C257.55,147.93 260.83,144.98 264.1,141.6 C267.37,138.22 270.92,133.92 273.9,130.2 C276.88,126.48 279.73,122.5 282,119.3 C284.27,116.1 284.75,115.55 287.5,111 C290.25,106.45 294.83,98.22 298.5,92 C302.17,85.78 306.5,78.83 309.5,73.7 C312.5,68.57 315.33,63.28 316.5,61.2" fill="none" stroke="#e8383a" stroke-width="1.1" stroke-dasharray="3.2,2.2"/>
<circle cx="220.5" cy="118.6" r="1.4" fill="#fff" stroke="#e8383a" stroke-width="0.6"/>
<circle cx="220.8" cy="126.3" r="1.4" fill="#fff" stroke="#3a68c0" stroke-width="0.6"/>
<circle cx="215.8" cy="153.6" r="1.4" fill="#fff" stroke="#333" stroke-width="0.6"/>
<line x1="220.5" y1="117.2" x2="218.5" y2="99" stroke="#e8383a" stroke-width="0.6" />
<line x1="222" y1="125.5" x2="233.5" y2="116.5" stroke="#3a68c0" stroke-width="0.6" />
<line x1="217" y1="153.2" x2="233.5" y2="149.8" stroke="#444" stroke-width="0.6" />
<text stroke="#e8383a" stroke-width="0.12" transform="translate(218.3,97.6) rotate(-66.5)" font-size="8" font-style="italic" fill="#e8383a">3 Mrad(Si)</text>
<text stroke="#3a68c0" stroke-width="0.12" transform="translate(235.5,115.5) rotate(-63)" font-size="8" font-style="italic" fill="#3a68c0">0 Mrad(Si)</text>
<text stroke="#555" stroke-width="0.12" transform="translate(235.6,150.6) rotate(-61)" font-size="8.2" font-style="italic" fill="#555">100 Mrad(Si)</text>
<text stroke="#1c1c1c" stroke-width="0.12" transform="translate(175.8,83.8) rotate(-90)" font-size="10" fill="#1c1c1c" text-anchor="middle"><tspan font-style="italic">I</tspan><tspan font-size="7" dy="2">ds</tspan><tspan dy="-2"> (A µm</tspan><tspan font-size="6.5" dy="-3.5">-1</tspan><tspan dy="3.5">)</tspan></text>
<text stroke="#1c1c1c" stroke-width="0.12" x="263" y="182.3" font-size="10" fill="#1c1c1c" text-anchor="middle"><tspan font-style="italic">V</tspan><tspan font-size="7" dy="2">gs</tspan><tspan dy="-2"> (V)</tspan></text>
<text stroke="#1c1c1c" stroke-width="0.12" transform="translate(339.6,57.3) rotate(90)" font-size="10" fill="#1c1c1c"><tspan font-style="italic">I</tspan><tspan font-size="7" dy="2">ds</tspan><tspan dy="-2"> (µA µm</tspan><tspan font-size="6.5" dy="-3.5">-1</tspan><tspan dy="3.5">)</tspan></text>
<text stroke="#111" stroke-width="0.12" x="178" y="8" font-size="11" font-weight="bold" fill="#111">b</text>
<text stroke="#1c1c1c" stroke-width="0.12" x="207.9" y="20" font-size="8" fill="#1c1c1c"><tspan font-style="italic">L</tspan><tspan font-size="6" dy="1.6">ch</tspan><tspan dy="-1.6"> = 4 µm</tspan></text>
<text stroke="#1c1c1c" stroke-width="0.12" x="208.2" y="33.7" font-size="8" fill="#1c1c1c"><tspan font-style="italic">V</tspan><tspan font-size="6" dy="1.6">ds</tspan><tspan dy="-1.6"> = 2.0 V</tspan></text>
<path d="M411.8,43.6 C412.63,44.17 415.22,46.17 416.8,47 C418.38,47.83 419.82,48.27 421.3,48.6 C422.78,48.93 424.22,49.05 425.7,49 C427.18,48.95 427.98,48.75 430.2,48.3 C432.42,47.85 436.05,46.92 439,46.3 C441.95,45.68 444.93,45.12 447.9,44.6 C450.87,44.08 453.83,43.6 456.8,43.2 C459.77,42.8 461.83,42.63 465.7,42.2 C469.57,41.77 474.12,41.42 480,40.6 C485.88,39.78 494.33,38.3 501,37.3 C507.67,36.3 512.57,35.4 520,34.6 C527.43,33.8 533.93,33.27 545.6,32.5 C557.27,31.73 579.27,30.55 590,30 C600.73,29.45 602.6,29.43 610,29.2 C617.4,28.97 625.15,28.77 634.4,28.6 C643.65,28.43 660.32,28.27 665.5,28.2" fill="none" stroke="#e6d2d5" stroke-width="8" stroke-linecap="round" stroke-linejoin="round"/>
<path d="M411.6,87.3 C412.47,86.58 415.23,84.33 416.8,83 C418.37,81.67 419.52,80.17 421,79.3 C422.48,78.43 424.2,78.1 425.7,77.8 C427.2,77.5 428.45,77.42 430,77.5 C431.55,77.58 433.33,77.9 435,78.3 C436.67,78.7 437.85,79.18 440,79.9 C442.15,80.62 445.1,81.7 447.9,82.6 C450.7,83.5 453.12,84.38 456.8,85.3 C460.48,86.22 462.8,87.22 470,88.1 C477.2,88.98 490,89.72 500,90.6 C510,91.48 519.17,92.6 530,93.4 C540.83,94.2 553.33,94.7 565,95.4 C576.67,96.1 588.33,96.48 600,97.6 C611.67,98.72 625,100.63 635,102.1 C645,103.57 654.75,105.37 660,106.4 C665.25,107.43 665.42,107.98 666.5,108.3" fill="none" stroke="#e6d2d5" stroke-width="7.3" stroke-linecap="round" stroke-linejoin="round"/>
<path d="M411.8,155 C412.6,154.25 415.07,151.92 416.6,150.5 C418.13,149.08 419.48,147.83 421,146.5 C422.52,145.17 424.2,143.38 425.7,142.5 C427.2,141.62 428.45,141.17 430,141.2 C431.55,141.23 433.33,142 435,142.7 C436.67,143.4 437.83,143.98 440,145.4 C442.17,146.82 445.2,149.73 448,151.2 C450.8,152.67 453.97,153.32 456.8,154.2 C459.63,155.08 461.13,155.73 465,156.5 C468.87,157.27 474.17,158.05 480,158.8 C485.83,159.55 491.67,160.22 500,161 C508.33,161.78 520,162.77 530,163.5 C540,164.23 550,164.93 560,165.4 C570,165.87 580,166.03 590,166.3 C600,166.57 610,166.62 620,167 C630,167.38 642.2,168.08 650,168.6 C657.8,169.12 664,169.85 666.8,170.1" fill="none" stroke="#e6d2d5" stroke-width="7.5" stroke-linecap="round" stroke-linejoin="round"/>
<path d="M412.3,228.2 C412.58,226.92 413.38,223.37 414,220.5 C414.62,217.63 415.25,213.67 416,211 C416.75,208.33 417.58,206.17 418.5,204.5 C419.42,202.83 420.45,201.67 421.5,201 C422.55,200.33 423.72,200.4 424.8,200.5 C425.88,200.6 426.8,201.05 428,201.6 C429.2,202.15 430,202.98 432,203.8 C434,204.62 437.33,205.55 440,206.5 C442.67,207.45 445.2,208.55 448,209.5 C450.8,210.45 454.13,211.35 456.8,212.2 C459.47,213.05 460.13,213.72 464,214.6 C467.87,215.48 474,216.47 480,217.5 C486,218.53 493.33,219.85 500,220.8 C506.67,221.75 513.33,222.4 520,223.2 C526.67,224 533.33,224.67 540,225.6 C546.67,226.53 551.67,227.9 560,228.8 C568.33,229.7 580,230.47 590,231 C600,231.53 607.2,231.8 620,232 C632.8,232.2 659,232.17 666.8,232.2" fill="none" stroke="#e6d2d5" stroke-width="7.3" stroke-linecap="round" stroke-linejoin="round"/>
<rect x="398.5" y="268" width="286.0" height="17.2" fill="#e6d2d5"/>
<defs><linearGradient id="ig" x1="0" y1="0" x2="0" y2="1"><stop offset="0" stop-color="#f7dde0"/><stop offset="1" stop-color="#fdf6f6"/></linearGradient></defs>
<rect x="398.5" y="341.9" width="286.0" height="14.5" fill="url(#ig)"/>
<line x1="398.5" y1="341.9" x2="684.5" y2="341.9" stroke="#b3aeae" stroke-width="1.1" stroke-dasharray="4.3,4.13"/>
<line x1="425.6" y1="8.8" x2="425.6" y2="357" stroke="#6496d7" stroke-width="1.6" stroke-dasharray="9,6.74" stroke-dashoffset="4.04"/>
<rect x="398.5" y="8.8" width="286.0" height="52.5" fill="none" stroke="#1c1c1c" stroke-width="1"/>
<line x1="412.4" y1="61.3" x2="412.4" y2="58.3" stroke="#1c1c1c" stroke-width="1" />
<line x1="457" y1="61.3" x2="457" y2="58.3" stroke="#1c1c1c" stroke-width="1" />
<line x1="501.6" y1="61.3" x2="501.6" y2="58.3" stroke="#1c1c1c" stroke-width="1" />
<line x1="546.2" y1="61.3" x2="546.2" y2="58.3" stroke="#1c1c1c" stroke-width="1" />
<line x1="590.8" y1="61.3" x2="590.8" y2="58.3" stroke="#1c1c1c" stroke-width="1" />
<line x1="635.4" y1="61.3" x2="635.4" y2="58.3" stroke="#1c1c1c" stroke-width="1" />
<line x1="665.5" y1="61.3" x2="665.5" y2="58.3" stroke="#1c1c1c" stroke-width="1" />
<line x1="434.7" y1="61.3" x2="434.7" y2="59.5" stroke="#1c1c1c" stroke-width="1" />
<line x1="479.3" y1="61.3" x2="479.3" y2="59.5" stroke="#1c1c1c" stroke-width="1" />
<line x1="523.9" y1="61.3" x2="523.9" y2="59.5" stroke="#1c1c1c" stroke-width="1" />
<line x1="568.5" y1="61.3" x2="568.5" y2="59.5" stroke="#1c1c1c" stroke-width="1" />
<line x1="613.1" y1="61.3" x2="613.1" y2="59.5" stroke="#1c1c1c" stroke-width="1" />
<path d="M647.3,63.599999999999994 L651.3,58.8 M650.3,63.599999999999994 L654.3,58.8" stroke="#1c1c1c" stroke-width="0.8" fill="none"/>
<rect x="649.6" y="60.699999999999996" width="1.6" height="1.2" fill="#fff"/>
<rect x="398.5" y="67.9" width="286.0" height="52.39999999999999" fill="none" stroke="#1c1c1c" stroke-width="1"/>
<line x1="412.4" y1="120.3" x2="412.4" y2="117.3" stroke="#1c1c1c" stroke-width="1" />
<line x1="457" y1="120.3" x2="457" y2="117.3" stroke="#1c1c1c" stroke-width="1" />
<line x1="501.6" y1="120.3" x2="501.6" y2="117.3" stroke="#1c1c1c" stroke-width="1" />
<line x1="546.2" y1="120.3" x2="546.2" y2="117.3" stroke="#1c1c1c" stroke-width="1" />
<line x1="590.8" y1="120.3" x2="590.8" y2="117.3" stroke="#1c1c1c" stroke-width="1" />
<line x1="635.4" y1="120.3" x2="635.4" y2="117.3" stroke="#1c1c1c" stroke-width="1" />
<line x1="665.5" y1="120.3" x2="665.5" y2="117.3" stroke="#1c1c1c" stroke-width="1" />
<line x1="434.7" y1="120.3" x2="434.7" y2="118.5" stroke="#1c1c1c" stroke-width="1" />
<line x1="479.3" y1="120.3" x2="479.3" y2="118.5" stroke="#1c1c1c" stroke-width="1" />
<line x1="523.9" y1="120.3" x2="523.9" y2="118.5" stroke="#1c1c1c" stroke-width="1" />
<line x1="568.5" y1="120.3" x2="568.5" y2="118.5" stroke="#1c1c1c" stroke-width="1" />
<line x1="613.1" y1="120.3" x2="613.1" y2="118.5" stroke="#1c1c1c" stroke-width="1" />
<path d="M647.3,122.6 L651.3,117.8 M650.3,122.6 L654.3,117.8" stroke="#1c1c1c" stroke-width="0.8" fill="none"/>
<rect x="649.6" y="119.7" width="1.6" height="1.2" fill="#fff"/>
<rect x="398.5" y="126.9" width="286.0" height="52.599999999999994" fill="none" stroke="#1c1c1c" stroke-width="1"/>
<line x1="412.4" y1="179.5" x2="412.4" y2="176.5" stroke="#1c1c1c" stroke-width="1" />
<line x1="457" y1="179.5" x2="457" y2="176.5" stroke="#1c1c1c" stroke-width="1" />
<line x1="501.6" y1="179.5" x2="501.6" y2="176.5" stroke="#1c1c1c" stroke-width="1" />
<line x1="546.2" y1="179.5" x2="546.2" y2="176.5" stroke="#1c1c1c" stroke-width="1" />
<line x1="590.8" y1="179.5" x2="590.8" y2="176.5" stroke="#1c1c1c" stroke-width="1" />
<line x1="635.4" y1="179.5" x2="635.4" y2="176.5" stroke="#1c1c1c" stroke-width="1" />
<line x1="665.5" y1="179.5" x2="665.5" y2="176.5" stroke="#1c1c1c" stroke-width="1" />
<line x1="434.7" y1="179.5" x2="434.7" y2="177.7" stroke="#1c1c1c" stroke-width="1" />
<line x1="479.3" y1="179.5" x2="479.3" y2="177.7" stroke="#1c1c1c" stroke-width="1" />
<line x1="523.9" y1="179.5" x2="523.9" y2="177.7" stroke="#1c1c1c" stroke-width="1" />
<line x1="568.5" y1="179.5" x2="568.5" y2="177.7" stroke="#1c1c1c" stroke-width="1" />
<line x1="613.1" y1="179.5" x2="613.1" y2="177.7" stroke="#1c1c1c" stroke-width="1" />
<path d="M647.3,181.8 L651.3,177.0 M650.3,181.8 L654.3,177.0" stroke="#1c1c1c" stroke-width="0.8" fill="none"/>
<rect x="649.6" y="178.9" width="1.6" height="1.2" fill="#fff"/>
<rect x="398.5" y="186.2" width="286.0" height="52.400000000000006" fill="none" stroke="#1c1c1c" stroke-width="1"/>
<line x1="412.4" y1="238.6" x2="412.4" y2="235.6" stroke="#1c1c1c" stroke-width="1" />
<line x1="457" y1="238.6" x2="457" y2="235.6" stroke="#1c1c1c" stroke-width="1" />
<line x1="501.6" y1="238.6" x2="501.6" y2="235.6" stroke="#1c1c1c" stroke-width="1" />
<line x1="546.2" y1="238.6" x2="546.2" y2="235.6" stroke="#1c1c1c" stroke-width="1" />
<line x1="590.8" y1="238.6" x2="590.8" y2="235.6" stroke="#1c1c1c" stroke-width="1" />
<line x1="635.4" y1="238.6" x2="635.4" y2="235.6" stroke="#1c1c1c" stroke-width="1" />
<line x1="665.5" y1="238.6" x2="665.5" y2="235.6" stroke="#1c1c1c" stroke-width="1" />
<line x1="434.7" y1="238.6" x2="434.7" y2="236.8" stroke="#1c1c1c" stroke-width="1" />
<line x1="479.3" y1="238.6" x2="479.3" y2="236.8" stroke="#1c1c1c" stroke-width="1" />
<line x1="523.9" y1="238.6" x2="523.9" y2="236.8" stroke="#1c1c1c" stroke-width="1" />
<line x1="568.5" y1="238.6" x2="568.5" y2="236.8" stroke="#1c1c1c" stroke-width="1" />
<line x1="613.1" y1="238.6" x2="613.1" y2="236.8" stroke="#1c1c1c" stroke-width="1" />
<path d="M647.3,240.9 L651.3,236.1 M650.3,240.9 L654.3,236.1" stroke="#1c1c1c" stroke-width="0.8" fill="none"/>
<rect x="649.6" y="238.0" width="1.6" height="1.2" fill="#fff"/>
<rect x="398.5" y="245.3" width="286.0" height="52.30000000000001" fill="none" stroke="#1c1c1c" stroke-width="1"/>
<line x1="412.4" y1="297.6" x2="412.4" y2="294.6" stroke="#1c1c1c" stroke-width="1" />
<line x1="457" y1="297.6" x2="457" y2="294.6" stroke="#1c1c1c" stroke-width="1" />
<line x1="501.6" y1="297.6" x2="501.6" y2="294.6" stroke="#1c1c1c" stroke-width="1" />
<line x1="546.2" y1="297.6" x2="546.2" y2="294.6" stroke="#1c1c1c" stroke-width="1" />
<line x1="590.8" y1="297.6" x2="590.8" y2="294.6" stroke="#1c1c1c" stroke-width="1" />
<line x1="635.4" y1="297.6" x2="635.4" y2="294.6" stroke="#1c1c1c" stroke-width="1" />
<line x1="665.5" y1="297.6" x2="665.5" y2="294.6" stroke="#1c1c1c" stroke-width="1" />
<line x1="434.7" y1="297.6" x2="434.7" y2="295.8" stroke="#1c1c1c" stroke-width="1" />
<line x1="479.3" y1="297.6" x2="479.3" y2="295.8" stroke="#1c1c1c" stroke-width="1" />
<line x1="523.9" y1="297.6" x2="523.9" y2="295.8" stroke="#1c1c1c" stroke-width="1" />
<line x1="568.5" y1="297.6" x2="568.5" y2="295.8" stroke="#1c1c1c" stroke-width="1" />
<line x1="613.1" y1="297.6" x2="613.1" y2="295.8" stroke="#1c1c1c" stroke-width="1" />
<path d="M647.3,299.90000000000003 L651.3,295.1 M650.3,299.90000000000003 L654.3,295.1" stroke="#1c1c1c" stroke-width="0.8" fill="none"/>
<rect x="649.6" y="297.0" width="1.6" height="1.2" fill="#fff"/>
<rect x="398.5" y="304.4" width="286.0" height="52.0" fill="none" stroke="#1c1c1c" stroke-width="1"/>
<line x1="412.4" y1="356.4" x2="412.4" y2="353.4" stroke="#1c1c1c" stroke-width="1" />
<line x1="457" y1="356.4" x2="457" y2="353.4" stroke="#1c1c1c" stroke-width="1" />
<line x1="501.6" y1="356.4" x2="501.6" y2="353.4" stroke="#1c1c1c" stroke-width="1" />
<line x1="546.2" y1="356.4" x2="546.2" y2="353.4" stroke="#1c1c1c" stroke-width="1" />
<line x1="590.8" y1="356.4" x2="590.8" y2="353.4" stroke="#1c1c1c" stroke-width="1" />
<line x1="635.4" y1="356.4" x2="635.4" y2="353.4" stroke="#1c1c1c" stroke-width="1" />
<line x1="665.5" y1="356.4" x2="665.5" y2="353.4" stroke="#1c1c1c" stroke-width="1" />
<line x1="434.7" y1="356.4" x2="434.7" y2="354.6" stroke="#1c1c1c" stroke-width="1" />
<line x1="479.3" y1="356.4" x2="479.3" y2="354.6" stroke="#1c1c1c" stroke-width="1" />
<line x1="523.9" y1="356.4" x2="523.9" y2="354.6" stroke="#1c1c1c" stroke-width="1" />
<line x1="568.5" y1="356.4" x2="568.5" y2="354.6" stroke="#1c1c1c" stroke-width="1" />
<line x1="613.1" y1="356.4" x2="613.1" y2="354.6" stroke="#1c1c1c" stroke-width="1" />
<path d="M647.3,358.7 L651.3,353.9 M650.3,358.7 L654.3,353.9" stroke="#1c1c1c" stroke-width="0.8" fill="none"/>
<rect x="649.6" y="355.79999999999995" width="1.6" height="1.2" fill="#fff"/>
<text transform="translate(412.4,367.2) scale(1,1.1)" font-size="9.5" fill="#2b5656" text-anchor="middle" stroke="#2b5656" stroke-width="0.15">0</text>
<text transform="translate(457,367.2) scale(1,1.1)" font-size="9.5" fill="#2b5656" text-anchor="middle" stroke="#2b5656" stroke-width="0.15">10</text>
<text transform="translate(501.6,367.2) scale(1,1.1)" font-size="9.5" fill="#2b5656" text-anchor="middle" stroke="#2b5656" stroke-width="0.15">20</text>
<text transform="translate(546.2,367.2) scale(1,1.1)" font-size="9.5" fill="#2b5656" text-anchor="middle" stroke="#2b5656" stroke-width="0.15">30</text>
<text transform="translate(590.8,367.2) scale(1,1.1)" font-size="9.5" fill="#2b5656" text-anchor="middle" stroke="#2b5656" stroke-width="0.15">40</text>
<text transform="translate(635.4,367.2) scale(1,1.1)" font-size="9.5" fill="#2b5656" text-anchor="middle" stroke="#2b5656" stroke-width="0.15">50</text>
<text transform="translate(665.5,367.2) scale(1,1.1)" font-size="9.5" fill="#2b5656" text-anchor="middle" stroke="#2b5656" stroke-width="0.15">100</text>
<text stroke="#1c1c1c" stroke-width="0.12" x="551.5" y="377.4" font-size="10" fill="#1c1c1c" text-anchor="middle" >TID (Mrad(Si))</text>
<line x1="398.5" y1="55.2" x2="400.3" y2="55.2" stroke="#1c1c1c" stroke-width="1" />
<line x1="398.5" y1="33.2" x2="400.3" y2="33.2" stroke="#1c1c1c" stroke-width="1" />
<line x1="398.5" y1="11.2" x2="400.3" y2="11.2" stroke="#1c1c1c" stroke-width="1" />
<line x1="398.5" y1="44.2" x2="401.5" y2="44.2" stroke="#1c1c1c" stroke-width="1" />
<text transform="translate(396.2,47.8) scale(1,1.1)" font-size="9.5" fill="#2b5656" text-anchor="end" stroke="#2b5656" stroke-width="0.15">10</text>
<line x1="398.5" y1="22.2" x2="401.5" y2="22.2" stroke="#1c1c1c" stroke-width="1" />
<text transform="translate(396.2,25.8) scale(1,1.1)" font-size="9.5" fill="#2b5656" text-anchor="end" stroke="#2b5656" stroke-width="0.15">15</text>
<line x1="398.5" y1="85.8" x2="401.5" y2="85.8" stroke="#1c1c1c" stroke-width="1" />
<text transform="translate(396.2,89.4) scale(1,1.1)" font-size="9.5" fill="#2b5656" text-anchor="end" stroke="#2b5656" stroke-width="0.15"><tspan>10</tspan><tspan dy="-3.4" font-size="6.84">−9</tspan></text>
<line x1="398.5" y1="111" x2="401.5" y2="111" stroke="#1c1c1c" stroke-width="1" />
<text transform="translate(396.2,114.6) scale(1,1.1)" font-size="9.5" fill="#2b5656" text-anchor="end" stroke="#2b5656" stroke-width="0.15"><tspan>10</tspan><tspan dy="-3.4" font-size="6.84">−10</tspan></text>
<line x1="398.5" y1="118.59" x2="400.3" y2="118.59" stroke="#1c1c1c" stroke-width="1" />
<line x1="398.5" y1="116.59" x2="400.3" y2="116.59" stroke="#1c1c1c" stroke-width="1" />
<line x1="398.5" y1="114.9" x2="400.3" y2="114.9" stroke="#1c1c1c" stroke-width="1" />
<line x1="398.5" y1="113.44" x2="400.3" y2="113.44" stroke="#1c1c1c" stroke-width="1" />
<line x1="398.5" y1="112.15" x2="400.3" y2="112.15" stroke="#1c1c1c" stroke-width="1" />
<line x1="398.5" y1="103.41" x2="400.3" y2="103.41" stroke="#1c1c1c" stroke-width="1" />
<line x1="398.5" y1="98.98" x2="400.3" y2="98.98" stroke="#1c1c1c" stroke-width="1" />
<line x1="398.5" y1="95.83" x2="400.3" y2="95.83" stroke="#1c1c1c" stroke-width="1" />
<line x1="398.5" y1="93.39" x2="400.3" y2="93.39" stroke="#1c1c1c" stroke-width="1" />
<line x1="398.5" y1="91.39" x2="400.3" y2="91.39" stroke="#1c1c1c" stroke-width="1" />
<line x1="398.5" y1="89.7" x2="400.3" y2="89.7" stroke="#1c1c1c" stroke-width="1" />
<line x1="398.5" y1="88.24" x2="400.3" y2="88.24" stroke="#1c1c1c" stroke-width="1" />
<line x1="398.5" y1="86.95" x2="400.3" y2="86.95" stroke="#1c1c1c" stroke-width="1" />
<line x1="398.5" y1="78.21" x2="400.3" y2="78.21" stroke="#1c1c1c" stroke-width="1" />
<line x1="398.5" y1="73.78" x2="400.3" y2="73.78" stroke="#1c1c1c" stroke-width="1" />
<line x1="398.5" y1="70.63" x2="400.3" y2="70.63" stroke="#1c1c1c" stroke-width="1" />
<line x1="398.5" y1="141.1" x2="401.5" y2="141.1" stroke="#1c1c1c" stroke-width="1" />
<text transform="translate(396.2,144.7) scale(1,1.1)" font-size="9.5" fill="#2b5656" text-anchor="end" stroke="#2b5656" stroke-width="0.15">200</text>
<line x1="398.5" y1="160.6" x2="401.5" y2="160.6" stroke="#1c1c1c" stroke-width="1" />
<text transform="translate(396.2,164.2) scale(1,1.1)" font-size="9.5" fill="#2b5656" text-anchor="end" stroke="#2b5656" stroke-width="0.15">160</text>
<line x1="398.5" y1="170.35" x2="400.3" y2="170.35" stroke="#1c1c1c" stroke-width="1" />
<line x1="398.5" y1="150.85" x2="400.3" y2="150.85" stroke="#1c1c1c" stroke-width="1" />
<line x1="398.5" y1="131.35" x2="400.3" y2="131.35" stroke="#1c1c1c" stroke-width="1" />
<line x1="398.5" y1="195.3" x2="401.5" y2="195.3" stroke="#1c1c1c" stroke-width="1" />
<text transform="translate(396.2,198.9) scale(1,1.1)" font-size="9.5" fill="#2b5656" text-anchor="end" stroke="#2b5656" stroke-width="0.15">0.20</text>
<line x1="398.5" y1="218.2" x2="401.5" y2="218.2" stroke="#1c1c1c" stroke-width="1" />
<text transform="translate(396.2,221.8) scale(1,1.1)" font-size="9.5" fill="#2b5656" text-anchor="end" stroke="#2b5656" stroke-width="0.15">0.15</text>
<line x1="398.5" y1="229.65" x2="400.3" y2="229.65" stroke="#1c1c1c" stroke-width="1" />
<line x1="398.5" y1="206.75" x2="400.3" y2="206.75" stroke="#1c1c1c" stroke-width="1" />
<line x1="398.5" y1="253.9" x2="401.5" y2="253.9" stroke="#1c1c1c" stroke-width="1" />
<text transform="translate(396.2,257.5) scale(1,1.1)" font-size="9.5" fill="#2b5656" text-anchor="end" stroke="#2b5656" stroke-width="0.15">0.2</text>
<line x1="398.5" y1="271.5" x2="401.5" y2="271.5" stroke="#1c1c1c" stroke-width="1" />
<text transform="translate(396.2,275.1) scale(1,1.1)" font-size="9.5" fill="#2b5656" text-anchor="end" stroke="#2b5656" stroke-width="0.15">0</text>
<line x1="398.5" y1="289.1" x2="401.5" y2="289.1" stroke="#1c1c1c" stroke-width="1" />
<text transform="translate(396.2,292.7) scale(1,1.1)" font-size="9.5" fill="#2b5656" text-anchor="end" stroke="#2b5656" stroke-width="0.15">−0.2</text>
<line x1="398.5" y1="262.7" x2="400.3" y2="262.7" stroke="#1c1c1c" stroke-width="1" />
<line x1="398.5" y1="280.3" x2="400.3" y2="280.3" stroke="#1c1c1c" stroke-width="1" />
<line x1="398.5" y1="306.2" x2="401.5" y2="306.2" stroke="#1c1c1c" stroke-width="1" />
<text transform="translate(396.2,309.8) scale(1,1.1)" font-size="9.5" fill="#2b5656" text-anchor="end" stroke="#2b5656" stroke-width="0.15"><tspan>10</tspan><tspan dy="-3.4" font-size="6.84">−9</tspan></text>
<line x1="398.5" y1="320.7" x2="401.5" y2="320.7" stroke="#1c1c1c" stroke-width="1" />
<text transform="translate(396.2,324.3) scale(1,1.1)" font-size="9.5" fill="#2b5656" text-anchor="end" stroke="#2b5656" stroke-width="0.15"><tspan>10</tspan><tspan dy="-3.4" font-size="6.84">−10</tspan></text>
<line x1="398.5" y1="335.2" x2="401.5" y2="335.2" stroke="#1c1c1c" stroke-width="1" />
<text transform="translate(396.2,338.8) scale(1,1.1)" font-size="9.5" fill="#2b5656" text-anchor="end" stroke="#2b5656" stroke-width="0.15"><tspan>10</tspan><tspan dy="-3.4" font-size="6.84">−11</tspan></text>
<line x1="398.5" y1="349.7" x2="401.5" y2="349.7" stroke="#1c1c1c" stroke-width="1" />
<text transform="translate(396.2,353.3) scale(1,1.1)" font-size="9.5" fill="#2b5656" text-anchor="end" stroke="#2b5656" stroke-width="0.15"><tspan>10</tspan><tspan dy="-3.4" font-size="6.84">−12</tspan></text>
<line x1="412.4" y1="33.6" x2="412.4" y2="54.1" stroke="#1a1a1a" stroke-width="0.95" />
<rect x="410.95" y="40.3" width="2.9" height="8.3" fill="#fff" fill-opacity="0.35"/>
<rect x="410.95" y="40.3" width="2.9" height="8.3" rx="0.7" fill="none" stroke="#151515" stroke-width="0.95"/>
<line x1="410.95" y1="45.7" x2="413.85" y2="45.7" stroke="#222" stroke-width="0.7" />
<circle cx="412.4" cy="33.6" r="0.65" fill="#1a1a1a"/>
<circle cx="412.4" cy="54.1" r="0.65" fill="#1a1a1a"/>
<line x1="416.86" y1="38.3" x2="416.86" y2="55.3" stroke="#1a1a1a" stroke-width="0.95" />
<rect x="415.41" y="44.6" width="2.9" height="6.3" fill="#fff" fill-opacity="0.35"/>
<rect x="415.41" y="44.6" width="2.9" height="6.3" rx="0.7" fill="none" stroke="#151515" stroke-width="0.95"/>
<line x1="415.41" y1="48.7" x2="418.31" y2="48.7" stroke="#222" stroke-width="0.7" />
<circle cx="416.86" cy="38.3" r="0.65" fill="#1a1a1a"/>
<circle cx="416.86" cy="55.3" r="0.65" fill="#1a1a1a"/>
<line x1="421.32" y1="39.5" x2="421.32" y2="58" stroke="#1a1a1a" stroke-width="0.95" />
<rect x="419.87" y="45" width="2.9" height="7.5" fill="#fff" fill-opacity="0.35"/>
<rect x="419.87" y="45" width="2.9" height="7.5" rx="0.7" fill="none" stroke="#151515" stroke-width="0.95"/>
<line x1="419.87" y1="49.88" x2="422.77" y2="49.88" stroke="#222" stroke-width="0.7" />
<circle cx="421.32" cy="39.5" r="0.65" fill="#1a1a1a"/>
<circle cx="421.32" cy="58" r="0.65" fill="#1a1a1a"/>
<line x1="425.78" y1="42" x2="425.78" y2="60.8" stroke="#1a1a1a" stroke-width="0.95" />
<rect x="424.33" y="47" width="2.9" height="6.7" fill="#fff" fill-opacity="0.35"/>
<rect x="424.33" y="47" width="2.9" height="6.7" rx="0.7" fill="none" stroke="#151515" stroke-width="0.95"/>
<line x1="424.33" y1="51.36" x2="427.23" y2="51.36" stroke="#222" stroke-width="0.7" />
<circle cx="425.78" cy="42" r="0.65" fill="#1a1a1a"/>
<circle cx="425.78" cy="60.8" r="0.65" fill="#1a1a1a"/>
<line x1="430.24" y1="40.3" x2="430.24" y2="56.5" stroke="#1a1a1a" stroke-width="0.95" />
<rect x="428.79" y="44.2" width="2.9" height="10.3" fill="#fff" fill-opacity="0.35"/>
<rect x="428.79" y="44.2" width="2.9" height="10.3" rx="0.7" fill="none" stroke="#151515" stroke-width="0.95"/>
<line x1="428.79" y1="50.9" x2="431.69" y2="50.9" stroke="#222" stroke-width="0.7" />
<circle cx="430.24" cy="40.3" r="0.65" fill="#1a1a1a"/>
<circle cx="430.24" cy="56.5" r="0.65" fill="#1a1a1a"/>
<line x1="439.16" y1="36.7" x2="439.16" y2="55.3" stroke="#1a1a1a" stroke-width="0.95" />
<rect x="437.71" y="43.4" width="2.9" height="7.9" fill="#fff" fill-opacity="0.35"/>
<rect x="437.71" y="43.4" width="2.9" height="7.9" rx="0.7" fill="none" stroke="#151515" stroke-width="0.95"/>
<line x1="437.71" y1="48.53" x2="440.61" y2="48.53" stroke="#222" stroke-width="0.7" />
<circle cx="439.16" cy="36.7" r="0.65" fill="#1a1a1a"/>
<circle cx="439.16" cy="55.3" r="0.65" fill="#1a1a1a"/>
<line x1="448.08" y1="37.9" x2="448.08" y2="57.3" stroke="#1a1a1a" stroke-width="0.95" />
<rect x="446.63" y="43" width="2.9" height="8.3" fill="#fff" fill-opacity="0.35"/>
<rect x="446.63" y="43" width="2.9" height="8.3" rx="0.7" fill="none" stroke="#151515" stroke-width="0.95"/>
<line x1="446.63" y1="48.39" x2="449.53" y2="48.39" stroke="#222" stroke-width="0.7" />
<circle cx="448.08" cy="37.9" r="0.65" fill="#1a1a1a"/>
<circle cx="448.08" cy="57.3" r="0.65" fill="#1a1a1a"/>
<line x1="457" y1="34.2" x2="457" y2="59.7" stroke="#1a1a1a" stroke-width="0.95" />
<rect x="455.55" y="39.9" width="2.9" height="9.5" fill="#fff" fill-opacity="0.35"/>
<rect x="455.55" y="39.9" width="2.9" height="9.5" rx="0.7" fill="none" stroke="#151515" stroke-width="0.95"/>
<line x1="455.55" y1="46.07" x2="458.45" y2="46.07" stroke="#222" stroke-width="0.7" />
<circle cx="457" cy="34.2" r="0.65" fill="#1a1a1a"/>
<circle cx="457" cy="59.7" r="0.65" fill="#1a1a1a"/>
<line x1="465.92" y1="33.1" x2="465.92" y2="52.5" stroke="#1a1a1a" stroke-width="0.95" />
<rect x="464.47" y="38.1" width="2.9" height="8.5" fill="#fff" fill-opacity="0.35"/>
<rect x="464.47" y="38.1" width="2.9" height="8.5" rx="0.7" fill="none" stroke="#151515" stroke-width="0.95"/>
<line x1="464.47" y1="43.62" x2="467.37" y2="43.62" stroke="#222" stroke-width="0.7" />
<circle cx="465.92" cy="33.1" r="0.65" fill="#1a1a1a"/>
<circle cx="465.92" cy="52.5" r="0.65" fill="#1a1a1a"/>
<line x1="479.3" y1="33.4" x2="479.3" y2="55.6" stroke="#1a1a1a" stroke-width="0.95" />
<rect x="477.85" y="42" width="2.9" height="7.8" fill="#fff" fill-opacity="0.35"/>
<rect x="477.85" y="42" width="2.9" height="7.8" rx="0.7" fill="none" stroke="#151515" stroke-width="0.95"/>
<line x1="477.85" y1="47.07" x2="480.75" y2="47.07" stroke="#222" stroke-width="0.7" />
<circle cx="479.3" cy="33.4" r="0.65" fill="#1a1a1a"/>
<circle cx="479.3" cy="55.6" r="0.65" fill="#1a1a1a"/>
<line x1="501.6" y1="24.9" x2="501.6" y2="48.3" stroke="#1a1a1a" stroke-width="0.95" />
<rect x="500.15" y="32" width="2.9" height="8.8" fill="#fff" fill-opacity="0.35"/>
<rect x="500.15" y="32" width="2.9" height="8.8" rx="0.7" fill="none" stroke="#151515" stroke-width="0.95"/>
<line x1="500.15" y1="37.72" x2="503.05" y2="37.72" stroke="#222" stroke-width="0.7" />
<circle cx="501.6" cy="24.9" r="0.65" fill="#1a1a1a"/>
<circle cx="501.6" cy="48.3" r="0.65" fill="#1a1a1a"/>
<line x1="523.9" y1="23.9" x2="523.9" y2="46.7" stroke="#1a1a1a" stroke-width="0.95" />
<rect x="522.45" y="30.8" width="2.9" height="10" fill="#fff" fill-opacity="0.35"/>
<rect x="522.45" y="30.8" width="2.9" height="10" rx="0.7" fill="none" stroke="#151515" stroke-width="0.95"/>
<line x1="522.45" y1="37.3" x2="525.35" y2="37.3" stroke="#222" stroke-width="0.7" />
<circle cx="523.9" cy="23.9" r="0.65" fill="#1a1a1a"/>
<circle cx="523.9" cy="46.7" r="0.65" fill="#1a1a1a"/>
<line x1="546.2" y1="30.9" x2="546.2" y2="54.9" stroke="#1a1a1a" stroke-width="0.95" />
<rect x="544.75" y="38.6" width="2.9" height="7" fill="#fff" fill-opacity="0.35"/>
<rect x="544.75" y="38.6" width="2.9" height="7" rx="0.7" fill="none" stroke="#151515" stroke-width="0.95"/>
<line x1="544.75" y1="43.15" x2="547.65" y2="43.15" stroke="#222" stroke-width="0.7" />
<circle cx="546.2" cy="30.9" r="0.65" fill="#1a1a1a"/>
<circle cx="546.2" cy="54.9" r="0.65" fill="#1a1a1a"/>
<line x1="590.8" y1="19.5" x2="590.8" y2="46.8" stroke="#1a1a1a" stroke-width="0.95" />
<rect x="589.35" y="30.3" width="2.9" height="8.4" fill="#fff" fill-opacity="0.35"/>
<rect x="589.35" y="30.3" width="2.9" height="8.4" rx="0.7" fill="none" stroke="#151515" stroke-width="0.95"/>
<line x1="589.35" y1="35.76" x2="592.25" y2="35.76" stroke="#222" stroke-width="0.7" />
<circle cx="590.8" cy="19.5" r="0.65" fill="#1a1a1a"/>
<circle cx="590.8" cy="46.8" r="0.65" fill="#1a1a1a"/>
<line x1="635.4" y1="15.4" x2="635.4" y2="45.1" stroke="#1a1a1a" stroke-width="0.95" />
<rect x="633.95" y="25.5" width="2.9" height="12.4" fill="#fff" fill-opacity="0.35"/>
<rect x="633.95" y="25.5" width="2.9" height="12.4" rx="0.7" fill="none" stroke="#151515" stroke-width="0.95"/>
<line x1="633.95" y1="33.56" x2="636.85" y2="33.56" stroke="#222" stroke-width="0.7" />
<circle cx="635.4" cy="15.4" r="0.65" fill="#1a1a1a"/>
<circle cx="635.4" cy="45.1" r="0.65" fill="#1a1a1a"/>
<line x1="665.5" y1="13" x2="665.5" y2="42" stroke="#1a1a1a" stroke-width="0.95" />
<rect x="664.05" y="24.6" width="2.9" height="9" fill="#fff" fill-opacity="0.35"/>
<rect x="664.05" y="24.6" width="2.9" height="9" rx="0.7" fill="none" stroke="#151515" stroke-width="0.95"/>
<line x1="664.05" y1="30.45" x2="666.95" y2="30.45" stroke="#222" stroke-width="0.7" />
<circle cx="665.5" cy="13" r="0.65" fill="#1a1a1a"/>
<circle cx="665.5" cy="42" r="0.65" fill="#1a1a1a"/>
<line x1="412.4" y1="82.2" x2="412.4" y2="90.9" stroke="#1a1a1a" stroke-width="0.95" />
<rect x="410.95" y="84.2" width="2.9" height="4.7" fill="#fff" fill-opacity="0.35"/>
<rect x="410.95" y="84.2" width="2.9" height="4.7" rx="0.7" fill="none" stroke="#151515" stroke-width="0.95"/>
<line x1="410.95" y1="87.26" x2="413.85" y2="87.26" stroke="#222" stroke-width="0.7" />
<circle cx="412.4" cy="82.2" r="0.65" fill="#1a1a1a"/>
<circle cx="412.4" cy="90.9" r="0.65" fill="#1a1a1a"/>
<line x1="416.86" y1="76.3" x2="416.86" y2="85.4" stroke="#1a1a1a" stroke-width="0.95" />
<rect x="415.41" y="78.3" width="2.9" height="3.5" rx="0.7" fill="#8a8a8a" stroke="#151515" stroke-width="0.95"/>
<line x1="415.41" y1="80.58" x2="418.31" y2="80.58" stroke="#222" stroke-width="0.7" />
<circle cx="416.86" cy="76.3" r="0.65" fill="#1a1a1a"/>
<circle cx="416.86" cy="85.4" r="0.65" fill="#1a1a1a"/>
<line x1="421.32" y1="74.9" x2="421.32" y2="81.8" stroke="#1a1a1a" stroke-width="0.95" />
<rect x="419.87" y="76.3" width="2.9" height="3.1" rx="0.7" fill="#8a8a8a" stroke="#151515" stroke-width="0.95"/>
<line x1="419.87" y1="78.31" x2="422.77" y2="78.31" stroke="#222" stroke-width="0.7" />
<circle cx="421.32" cy="74.9" r="0.65" fill="#1a1a1a"/>
<circle cx="421.32" cy="81.8" r="0.65" fill="#1a1a1a"/>
<line x1="425.78" y1="72.9" x2="425.78" y2="81.4" stroke="#1a1a1a" stroke-width="0.95" />
<rect x="424.33" y="75.1" width="2.9" height="3.2" rx="0.7" fill="#8a8a8a" stroke="#151515" stroke-width="0.95"/>
<line x1="424.33" y1="77.18" x2="427.23" y2="77.18" stroke="#222" stroke-width="0.7" />
<circle cx="425.78" cy="72.9" r="0.65" fill="#1a1a1a"/>
<circle cx="425.78" cy="81.4" r="0.65" fill="#1a1a1a"/>
<line x1="430.24" y1="73.5" x2="430.24" y2="80.6" stroke="#1a1a1a" stroke-width="0.95" />
<rect x="428.79" y="75.1" width="2.9" height="3.6" rx="0.7" fill="#8a8a8a" stroke="#151515" stroke-width="0.95"/>
<line x1="428.79" y1="77.44" x2="431.69" y2="77.44" stroke="#222" stroke-width="0.7" />
<circle cx="430.24" cy="73.5" r="0.65" fill="#1a1a1a"/>
<circle cx="430.24" cy="80.6" r="0.65" fill="#1a1a1a"/>
<line x1="439.16" y1="75.5" x2="439.16" y2="83" stroke="#1a1a1a" stroke-width="0.95" />
<rect x="437.71" y="77.1" width="2.9" height="3.9" rx="0.7" fill="#8a8a8a" stroke="#151515" stroke-width="0.95"/>
<line x1="437.71" y1="79.63" x2="440.61" y2="79.63" stroke="#222" stroke-width="0.7" />
<circle cx="439.16" cy="75.5" r="0.65" fill="#1a1a1a"/>
<circle cx="439.16" cy="83" r="0.65" fill="#1a1a1a"/>
<line x1="448.08" y1="78.2" x2="448.08" y2="85.8" stroke="#1a1a1a" stroke-width="0.95" />
<rect x="446.63" y="79.9" width="2.9" height="2.9" rx="0.7" fill="#8a8a8a" stroke="#151515" stroke-width="0.95"/>
<line x1="446.63" y1="81.78" x2="449.53" y2="81.78" stroke="#222" stroke-width="0.7" />
<circle cx="448.08" cy="78.2" r="0.65" fill="#1a1a1a"/>
<circle cx="448.08" cy="85.8" r="0.65" fill="#1a1a1a"/>
<line x1="457" y1="78.9" x2="457" y2="87.4" stroke="#1a1a1a" stroke-width="0.95" />
<rect x="455.55" y="80.5" width="2.9" height="3.3" rx="0.7" fill="#8a8a8a" stroke="#151515" stroke-width="0.95"/>
<line x1="455.55" y1="82.64" x2="458.45" y2="82.64" stroke="#222" stroke-width="0.7" />
<circle cx="457" cy="78.9" r="0.65" fill="#1a1a1a"/>
<circle cx="457" cy="87.4" r="0.65" fill="#1a1a1a"/>
<line x1="465.92" y1="79.2" x2="465.92" y2="87.8" stroke="#1a1a1a" stroke-width="0.95" />
<rect x="464.47" y="80.9" width="2.9" height="3.2" rx="0.7" fill="#8a8a8a" stroke="#151515" stroke-width="0.95"/>
<line x1="464.47" y1="82.98" x2="467.37" y2="82.98" stroke="#222" stroke-width="0.7" />
<circle cx="465.92" cy="79.2" r="0.65" fill="#1a1a1a"/>
<circle cx="465.92" cy="87.8" r="0.65" fill="#1a1a1a"/>
<line x1="479.3" y1="82" x2="479.3" y2="89.9" stroke="#1a1a1a" stroke-width="0.95" />
<rect x="477.85" y="83.8" width="2.9" height="4.2" rx="0.7" fill="#8a8a8a" stroke="#151515" stroke-width="0.95"/>
<line x1="477.85" y1="86.53" x2="480.75" y2="86.53" stroke="#222" stroke-width="0.7" />
<circle cx="479.3" cy="82" r="0.65" fill="#1a1a1a"/>
<circle cx="479.3" cy="89.9" r="0.65" fill="#1a1a1a"/>
<line x1="501.6" y1="86.8" x2="501.6" y2="96.7" stroke="#1a1a1a" stroke-width="0.95" />
<rect x="500.15" y="89" width="2.9" height="4" rx="0.7" fill="#8a8a8a" stroke="#151515" stroke-width="0.95"/>
<line x1="500.15" y1="91.6" x2="503.05" y2="91.6" stroke="#222" stroke-width="0.7" />
<circle cx="501.6" cy="86.8" r="0.65" fill="#1a1a1a"/>
<circle cx="501.6" cy="96.7" r="0.65" fill="#1a1a1a"/>
<line x1="523.9" y1="87.3" x2="523.9" y2="96.9" stroke="#1a1a1a" stroke-width="0.95" />
<rect x="522.45" y="89" width="2.9" height="3.1" rx="0.7" fill="#8a8a8a" stroke="#151515" stroke-width="0.95"/>
<line x1="522.45" y1="91.02" x2="525.35" y2="91.02" stroke="#222" stroke-width="0.7" />
<circle cx="523.9" cy="87.3" r="0.65" fill="#1a1a1a"/>
<circle cx="523.9" cy="96.9" r="0.65" fill="#1a1a1a"/>
<line x1="546.2" y1="86.1" x2="546.2" y2="94.3" stroke="#1a1a1a" stroke-width="0.95" />
<rect x="544.75" y="86.9" width="2.9" height="3.8" rx="0.7" fill="#8a8a8a" stroke="#151515" stroke-width="0.95"/>
<line x1="544.75" y1="89.37" x2="547.65" y2="89.37" stroke="#222" stroke-width="0.7" />
<circle cx="546.2" cy="86.1" r="0.65" fill="#1a1a1a"/>
<circle cx="546.2" cy="94.3" r="0.65" fill="#1a1a1a"/>
<line x1="590.8" y1="95.3" x2="590.8" y2="106" stroke="#1a1a1a" stroke-width="0.95" />
<rect x="589.35" y="96.1" width="2.9" height="4.3" rx="0.7" fill="#8a8a8a" stroke="#151515" stroke-width="0.95"/>
<line x1="589.35" y1="98.89" x2="592.25" y2="98.89" stroke="#222" stroke-width="0.7" />
<circle cx="590.8" cy="95.3" r="0.65" fill="#1a1a1a"/>
<circle cx="590.8" cy="106" r="0.65" fill="#1a1a1a"/>
<line x1="635.4" y1="97.9" x2="635.4" y2="109.7" stroke="#1a1a1a" stroke-width="0.95" />
<rect x="633.95" y="99.6" width="2.9" height="5.5" fill="#fff" fill-opacity="0.35"/>
<rect x="633.95" y="99.6" width="2.9" height="5.5" rx="0.7" fill="none" stroke="#151515" stroke-width="0.95"/>
<line x1="633.95" y1="103.17" x2="636.85" y2="103.17" stroke="#222" stroke-width="0.7" />
<circle cx="635.4" cy="97.9" r="0.65" fill="#1a1a1a"/>
<circle cx="635.4" cy="109.7" r="0.65" fill="#1a1a1a"/>
<line x1="665.5" y1="101.8" x2="665.5" y2="114.3" stroke="#1a1a1a" stroke-width="0.95" />
<rect x="664.05" y="105.1" width="2.9" height="4.6" fill="#fff" fill-opacity="0.35"/>
<rect x="664.05" y="105.1" width="2.9" height="4.6" rx="0.7" fill="none" stroke="#151515" stroke-width="0.95"/>
<line x1="664.05" y1="108.09" x2="666.95" y2="108.09" stroke="#222" stroke-width="0.7" />
<circle cx="665.5" cy="101.8" r="0.65" fill="#1a1a1a"/>
<circle cx="665.5" cy="114.3" r="0.65" fill="#1a1a1a"/>
<line x1="412.4" y1="147.9" x2="412.4" y2="159.5" stroke="#1a1a1a" stroke-width="0.95" />
<rect x="410.95" y="151.8" width="2.9" height="3.8" rx="0.7" fill="#8a8a8a" stroke="#151515" stroke-width="0.95"/>
<line x1="410.95" y1="154.27" x2="413.85" y2="154.27" stroke="#222" stroke-width="0.7" />
<circle cx="412.4" cy="147.9" r="0.65" fill="#1a1a1a"/>
<circle cx="412.4" cy="159.5" r="0.65" fill="#1a1a1a"/>
<line x1="416.86" y1="140.7" x2="416.86" y2="151.2" stroke="#1a1a1a" stroke-width="0.95" />
<rect x="415.41" y="144.6" width="2.9" height="4.4" rx="0.7" fill="#8a8a8a" stroke="#151515" stroke-width="0.95"/>
<line x1="415.41" y1="147.46" x2="418.31" y2="147.46" stroke="#222" stroke-width="0.7" />
<circle cx="416.86" cy="140.7" r="0.65" fill="#1a1a1a"/>
<circle cx="416.86" cy="151.2" r="0.65" fill="#1a1a1a"/>
<line x1="421.32" y1="137.4" x2="421.32" y2="150.7" stroke="#1a1a1a" stroke-width="0.95" />
<rect x="419.87" y="141.8" width="2.9" height="4.4" rx="0.7" fill="#8a8a8a" stroke="#151515" stroke-width="0.95"/>
<line x1="419.87" y1="144.66" x2="422.77" y2="144.66" stroke="#222" stroke-width="0.7" />
<circle cx="421.32" cy="137.4" r="0.65" fill="#1a1a1a"/>
<circle cx="421.32" cy="150.7" r="0.65" fill="#1a1a1a"/>
<line x1="425.78" y1="131.3" x2="425.78" y2="148.4" stroke="#1a1a1a" stroke-width="0.95" />
<rect x="424.33" y="137.9" width="2.9" height="5.6" fill="#fff" fill-opacity="0.35"/>
<rect x="424.33" y="137.9" width="2.9" height="5.6" rx="0.7" fill="none" stroke="#151515" stroke-width="0.95"/>
<line x1="424.33" y1="141.54" x2="427.23" y2="141.54" stroke="#222" stroke-width="0.7" />
<circle cx="425.78" cy="131.3" r="0.65" fill="#1a1a1a"/>
<circle cx="425.78" cy="148.4" r="0.65" fill="#1a1a1a"/>
<line x1="430.24" y1="130.8" x2="430.24" y2="149.5" stroke="#1a1a1a" stroke-width="0.95" />
<rect x="428.79" y="137.9" width="2.9" height="5.6" fill="#fff" fill-opacity="0.35"/>
<rect x="428.79" y="137.9" width="2.9" height="5.6" rx="0.7" fill="none" stroke="#151515" stroke-width="0.95"/>
<line x1="428.79" y1="141.54" x2="431.69" y2="141.54" stroke="#222" stroke-width="0.7" />
<circle cx="430.24" cy="130.8" r="0.65" fill="#1a1a1a"/>
<circle cx="430.24" cy="149.5" r="0.65" fill="#1a1a1a"/>
<line x1="439.16" y1="140.7" x2="439.16" y2="154.5" stroke="#1a1a1a" stroke-width="0.95" />
<rect x="437.71" y="144.6" width="2.9" height="4.9" fill="#fff" fill-opacity="0.35"/>
<rect x="437.71" y="144.6" width="2.9" height="4.9" rx="0.7" fill="none" stroke="#151515" stroke-width="0.95"/>
<line x1="437.71" y1="147.78" x2="440.61" y2="147.78" stroke="#222" stroke-width="0.7" />
<circle cx="439.16" cy="140.7" r="0.65" fill="#1a1a1a"/>
<circle cx="439.16" cy="154.5" r="0.65" fill="#1a1a1a"/>
<line x1="448.08" y1="146.2" x2="448.08" y2="160.6" stroke="#1a1a1a" stroke-width="0.95" />
<rect x="446.63" y="150.7" width="2.9" height="4.9" fill="#fff" fill-opacity="0.35"/>
<rect x="446.63" y="150.7" width="2.9" height="4.9" rx="0.7" fill="none" stroke="#151515" stroke-width="0.95"/>
<line x1="446.63" y1="153.88" x2="449.53" y2="153.88" stroke="#222" stroke-width="0.7" />
<circle cx="448.08" cy="146.2" r="0.65" fill="#1a1a1a"/>
<circle cx="448.08" cy="160.6" r="0.65" fill="#1a1a1a"/>
<line x1="457" y1="147.9" x2="457" y2="161.7" stroke="#1a1a1a" stroke-width="0.95" />
<rect x="455.55" y="152.9" width="2.9" height="4.4" rx="0.7" fill="#8a8a8a" stroke="#151515" stroke-width="0.95"/>
<line x1="455.55" y1="155.76" x2="458.45" y2="155.76" stroke="#222" stroke-width="0.7" />
<circle cx="457" cy="147.9" r="0.65" fill="#1a1a1a"/>
<circle cx="457" cy="161.7" r="0.65" fill="#1a1a1a"/>
<line x1="465.92" y1="151.6" x2="465.92" y2="162.5" stroke="#1a1a1a" stroke-width="0.95" />
<rect x="464.47" y="154.5" width="2.9" height="3.6" rx="0.7" fill="#8a8a8a" stroke="#151515" stroke-width="0.95"/>
<line x1="464.47" y1="156.84" x2="467.37" y2="156.84" stroke="#222" stroke-width="0.7" />
<circle cx="465.92" cy="151.6" r="0.65" fill="#1a1a1a"/>
<circle cx="465.92" cy="162.5" r="0.65" fill="#1a1a1a"/>
<line x1="479.3" y1="153" x2="479.3" y2="165.4" stroke="#1a1a1a" stroke-width="0.95" />
<rect x="477.85" y="157.8" width="2.9" height="4" rx="0.7" fill="#8a8a8a" stroke="#151515" stroke-width="0.95"/>
<line x1="477.85" y1="160.4" x2="480.75" y2="160.4" stroke="#222" stroke-width="0.7" />
<circle cx="479.3" cy="153" r="0.65" fill="#1a1a1a"/>
<circle cx="479.3" cy="165.4" r="0.65" fill="#1a1a1a"/>
<line x1="501.6" y1="156" x2="501.6" y2="170.5" stroke="#1a1a1a" stroke-width="0.95" />
<rect x="500.15" y="161.8" width="2.9" height="4.4" rx="0.7" fill="#8a8a8a" stroke="#151515" stroke-width="0.95"/>
<line x1="500.15" y1="164.66" x2="503.05" y2="164.66" stroke="#222" stroke-width="0.7" />
<circle cx="501.6" cy="156" r="0.65" fill="#1a1a1a"/>
<circle cx="501.6" cy="170.5" r="0.65" fill="#1a1a1a"/>
<line x1="523.9" y1="158.1" x2="523.9" y2="169.8" stroke="#1a1a1a" stroke-width="0.95" />
<rect x="522.45" y="162.5" width="2.9" height="3.7" rx="0.7" fill="#8a8a8a" stroke="#151515" stroke-width="0.95"/>
<line x1="522.45" y1="164.91" x2="525.35" y2="164.91" stroke="#222" stroke-width="0.7" />
<circle cx="523.9" cy="158.1" r="0.65" fill="#1a1a1a"/>
<circle cx="523.9" cy="169.8" r="0.65" fill="#1a1a1a"/>
<line x1="546.2" y1="157.8" x2="546.2" y2="169.8" stroke="#1a1a1a" stroke-width="0.95" />
<rect x="544.75" y="161.1" width="2.9" height="4.3" rx="0.7" fill="#8a8a8a" stroke="#151515" stroke-width="0.95"/>
<line x1="544.75" y1="163.9" x2="547.65" y2="163.9" stroke="#222" stroke-width="0.7" />
<circle cx="546.2" cy="157.8" r="0.65" fill="#1a1a1a"/>
<circle cx="546.2" cy="169.8" r="0.65" fill="#1a1a1a"/>
<line x1="590.8" y1="158.2" x2="590.8" y2="173.7" stroke="#1a1a1a" stroke-width="0.95" />
<rect x="589.35" y="164.2" width="2.9" height="5.9" fill="#fff" fill-opacity="0.35"/>
<rect x="589.35" y="164.2" width="2.9" height="5.9" rx="0.7" fill="none" stroke="#151515" stroke-width="0.95"/>
<line x1="589.35" y1="168.03" x2="592.25" y2="168.03" stroke="#222" stroke-width="0.7" />
<circle cx="590.8" cy="158.2" r="0.65" fill="#1a1a1a"/>
<circle cx="590.8" cy="173.7" r="0.65" fill="#1a1a1a"/>
<line x1="635.4" y1="158.2" x2="635.4" y2="173.7" stroke="#1a1a1a" stroke-width="0.95" />
<rect x="633.95" y="166.1" width="2.9" height="5.4" fill="#fff" fill-opacity="0.35"/>
<rect x="633.95" y="166.1" width="2.9" height="5.4" rx="0.7" fill="none" stroke="#151515" stroke-width="0.95"/>
<line x1="633.95" y1="169.61" x2="636.85" y2="169.61" stroke="#222" stroke-width="0.7" />
<circle cx="635.4" cy="158.2" r="0.65" fill="#1a1a1a"/>
<circle cx="635.4" cy="173.7" r="0.65" fill="#1a1a1a"/>
<line x1="665.5" y1="160.6" x2="665.5" y2="178.3" stroke="#1a1a1a" stroke-width="0.95" />
<rect x="664.05" y="166.8" width="2.9" height="6" fill="#fff" fill-opacity="0.35"/>
<rect x="664.05" y="166.8" width="2.9" height="6" rx="0.7" fill="none" stroke="#151515" stroke-width="0.95"/>
<line x1="664.05" y1="170.7" x2="666.95" y2="170.7" stroke="#222" stroke-width="0.7" />
<circle cx="665.5" cy="160.6" r="0.65" fill="#1a1a1a"/>
<circle cx="665.5" cy="178.3" r="0.65" fill="#1a1a1a"/>
<line x1="412.4" y1="224" x2="412.4" y2="231.6" stroke="#1a1a1a" stroke-width="0.95" />
<rect x="410.95" y="225.9" width="2.9" height="4.4" rx="0.7" fill="#8a8a8a" stroke="#151515" stroke-width="0.95"/>
<line x1="410.95" y1="228.76" x2="413.85" y2="228.76" stroke="#222" stroke-width="0.7" />
<circle cx="412.4" cy="224" r="0.65" fill="#1a1a1a"/>
<circle cx="412.4" cy="231.6" r="0.65" fill="#1a1a1a"/>
<line x1="416.86" y1="196.2" x2="416.86" y2="209.5" stroke="#1a1a1a" stroke-width="0.95" />
<rect x="415.41" y="201.3" width="2.9" height="5" fill="#fff" fill-opacity="0.35"/>
<rect x="415.41" y="201.3" width="2.9" height="5" rx="0.7" fill="none" stroke="#151515" stroke-width="0.95"/>
<line x1="415.41" y1="204.55" x2="418.31" y2="204.55" stroke="#222" stroke-width="0.7" />
<circle cx="416.86" cy="196.2" r="0.65" fill="#1a1a1a"/>
<circle cx="416.86" cy="209.5" r="0.65" fill="#1a1a1a"/>
<line x1="425.78" y1="193" x2="425.78" y2="211.4" stroke="#1a1a1a" stroke-width="0.95" />
<rect x="424.33" y="198.7" width="2.9" height="5.7" fill="#fff" fill-opacity="0.35"/>
<rect x="424.33" y="198.7" width="2.9" height="5.7" rx="0.7" fill="none" stroke="#151515" stroke-width="0.95"/>
<line x1="424.33" y1="202.41" x2="427.23" y2="202.41" stroke="#222" stroke-width="0.7" />
<circle cx="425.78" cy="193" r="0.65" fill="#1a1a1a"/>
<circle cx="425.78" cy="211.4" r="0.65" fill="#1a1a1a"/>
<line x1="439.16" y1="196.2" x2="439.16" y2="214.5" stroke="#1a1a1a" stroke-width="0.95" />
<rect x="437.71" y="202.5" width="2.9" height="6.3" fill="#fff" fill-opacity="0.35"/>
<rect x="437.71" y="202.5" width="2.9" height="6.3" rx="0.7" fill="none" stroke="#151515" stroke-width="0.95"/>
<line x1="437.71" y1="206.59" x2="440.61" y2="206.59" stroke="#222" stroke-width="0.7" />
<circle cx="439.16" cy="196.2" r="0.65" fill="#1a1a1a"/>
<circle cx="439.16" cy="214.5" r="0.65" fill="#1a1a1a"/>
<line x1="448.08" y1="207" x2="448.08" y2="219.6" stroke="#1a1a1a" stroke-width="0.95" />
<rect x="446.63" y="212" width="2.9" height="4.8" fill="#fff" fill-opacity="0.35"/>
<rect x="446.63" y="212" width="2.9" height="4.8" rx="0.7" fill="none" stroke="#151515" stroke-width="0.95"/>
<line x1="446.63" y1="215.12" x2="449.53" y2="215.12" stroke="#222" stroke-width="0.7" />
<circle cx="448.08" cy="207" r="0.65" fill="#1a1a1a"/>
<circle cx="448.08" cy="219.6" r="0.65" fill="#1a1a1a"/>
<line x1="457" y1="210.7" x2="457" y2="224.6" stroke="#1a1a1a" stroke-width="0.95" />
<rect x="455.55" y="215.2" width="2.9" height="5" fill="#fff" fill-opacity="0.35"/>
<rect x="455.55" y="215.2" width="2.9" height="5" rx="0.7" fill="none" stroke="#151515" stroke-width="0.95"/>
<line x1="455.55" y1="218.45" x2="458.45" y2="218.45" stroke="#222" stroke-width="0.7" />
<circle cx="457" cy="210.7" r="0.65" fill="#1a1a1a"/>
<circle cx="457" cy="224.6" r="0.65" fill="#1a1a1a"/>
<line x1="465.92" y1="207" x2="465.92" y2="221.2" stroke="#1a1a1a" stroke-width="0.95" />
<rect x="464.47" y="213.1" width="2.9" height="4.1" rx="0.7" fill="#8a8a8a" stroke="#151515" stroke-width="0.95"/>
<line x1="464.47" y1="215.76" x2="467.37" y2="215.76" stroke="#222" stroke-width="0.7" />
<circle cx="465.92" cy="207" r="0.65" fill="#1a1a1a"/>
<circle cx="465.92" cy="221.2" r="0.65" fill="#1a1a1a"/>
<line x1="479.3" y1="210.2" x2="479.3" y2="224.5" stroke="#1a1a1a" stroke-width="0.95" />
<rect x="477.85" y="215.8" width="2.9" height="4.6" fill="#fff" fill-opacity="0.35"/>
<rect x="477.85" y="215.8" width="2.9" height="4.6" rx="0.7" fill="none" stroke="#151515" stroke-width="0.95"/>
<line x1="477.85" y1="218.79" x2="480.75" y2="218.79" stroke="#222" stroke-width="0.7" />
<circle cx="479.3" cy="210.2" r="0.65" fill="#1a1a1a"/>
<circle cx="479.3" cy="224.5" r="0.65" fill="#1a1a1a"/>
<line x1="501.6" y1="216.8" x2="501.6" y2="230.7" stroke="#1a1a1a" stroke-width="0.95" />
<rect x="500.15" y="221.6" width="2.9" height="5.4" fill="#fff" fill-opacity="0.35"/>
<rect x="500.15" y="221.6" width="2.9" height="5.4" rx="0.7" fill="none" stroke="#151515" stroke-width="0.95"/>
<line x1="500.15" y1="225.11" x2="503.05" y2="225.11" stroke="#222" stroke-width="0.7" />
<circle cx="501.6" cy="216.8" r="0.65" fill="#1a1a1a"/>
<circle cx="501.6" cy="230.7" r="0.65" fill="#1a1a1a"/>
<line x1="523.9" y1="221.2" x2="523.9" y2="231" stroke="#1a1a1a" stroke-width="0.95" />
<rect x="522.45" y="223.4" width="2.9" height="3.6" rx="0.7" fill="#8a8a8a" stroke="#151515" stroke-width="0.95"/>
<line x1="522.45" y1="225.74" x2="525.35" y2="225.74" stroke="#222" stroke-width="0.7" />
<circle cx="523.9" cy="221.2" r="0.65" fill="#1a1a1a"/>
<circle cx="523.9" cy="231" r="0.65" fill="#1a1a1a"/>
<line x1="546.2" y1="224.8" x2="546.2" y2="238" stroke="#1a1a1a" stroke-width="0.95" />
<rect x="544.75" y="227" width="2.9" height="4" rx="0.7" fill="#8a8a8a" stroke="#151515" stroke-width="0.95"/>
<line x1="544.75" y1="229.6" x2="547.65" y2="229.6" stroke="#222" stroke-width="0.7" />
<circle cx="546.2" cy="224.8" r="0.65" fill="#1a1a1a"/>
<circle cx="546.2" cy="238" r="0.65" fill="#1a1a1a"/>
<line x1="590.8" y1="226.9" x2="590.8" y2="237.8" stroke="#1a1a1a" stroke-width="0.95" />
<rect x="589.35" y="228.7" width="2.9" height="4.6" fill="#fff" fill-opacity="0.35"/>
<rect x="589.35" y="228.7" width="2.9" height="4.6" rx="0.7" fill="none" stroke="#151515" stroke-width="0.95"/>
<line x1="589.35" y1="231.69" x2="592.25" y2="231.69" stroke="#222" stroke-width="0.7" />
<circle cx="590.8" cy="226.9" r="0.65" fill="#1a1a1a"/>
<circle cx="590.8" cy="237.8" r="0.65" fill="#1a1a1a"/>
<line x1="635.4" y1="232" x2="635.4" y2="238.2" stroke="#1a1a1a" stroke-width="0.95" />
<rect x="633.95" y="232.7" width="2.9" height="3.7" rx="0.7" fill="#8a8a8a" stroke="#151515" stroke-width="0.95"/>
<line x1="633.95" y1="235.1" x2="636.85" y2="235.1" stroke="#222" stroke-width="0.7" />
<circle cx="635.4" cy="232" r="0.65" fill="#1a1a1a"/>
<circle cx="635.4" cy="238.2" r="0.65" fill="#1a1a1a"/>
<line x1="665.5" y1="228.7" x2="665.5" y2="237.8" stroke="#1a1a1a" stroke-width="0.95" />
<rect x="664.05" y="230.5" width="2.9" height="4.6" fill="#fff" fill-opacity="0.35"/>
<rect x="664.05" y="230.5" width="2.9" height="4.6" rx="0.7" fill="none" stroke="#151515" stroke-width="0.95"/>
<line x1="664.05" y1="233.49" x2="666.95" y2="233.49" stroke="#222" stroke-width="0.7" />
<circle cx="665.5" cy="228.7" r="0.65" fill="#1a1a1a"/>
<circle cx="665.5" cy="237.8" r="0.65" fill="#1a1a1a"/>
<line x1="416.86" y1="272.4" x2="416.86" y2="277.4" stroke="#222" stroke-width="0.9" />
<ellipse cx="416.86" cy="274.9" rx="1.5" ry="1.5750000000000002" fill="#1a1a1a"/>
<line x1="421.32" y1="273.2" x2="421.32" y2="278.2" stroke="#222" stroke-width="0.9" />
<ellipse cx="421.32" cy="275.7" rx="1.5" ry="1.5750000000000002" fill="#1a1a1a"/>
<line x1="430.24" y1="273.6" x2="430.24" y2="278.6" stroke="#222" stroke-width="0.9" />
<ellipse cx="430.24" cy="276.1" rx="1.5" ry="1.5750000000000002" fill="#1a1a1a"/>
<line x1="439.16" y1="276.4" x2="439.16" y2="281.4" stroke="#222" stroke-width="0.9" />
<ellipse cx="439.16" cy="278.9" rx="1.5" ry="1.5750000000000002" fill="#1a1a1a"/>
<line x1="448.08" y1="278" x2="448.08" y2="283" stroke="#222" stroke-width="0.9" />
<ellipse cx="448.08" cy="280.5" rx="1.5" ry="1.5750000000000002" fill="#1a1a1a"/>
<line x1="457" y1="278" x2="457" y2="283" stroke="#222" stroke-width="0.9" />
<ellipse cx="457" cy="280.5" rx="1.5" ry="1.5750000000000002" fill="#1a1a1a"/>
<line x1="465.92" y1="278" x2="465.92" y2="283" stroke="#222" stroke-width="0.9" />
<ellipse cx="465.92" cy="280.5" rx="1.5" ry="1.5750000000000002" fill="#1a1a1a"/>
<line x1="501.6" y1="275" x2="501.6" y2="280" stroke="#222" stroke-width="0.9" />
<ellipse cx="501.6" cy="277.5" rx="1.5" ry="1.5750000000000002" fill="#1a1a1a"/>
<line x1="523.9" y1="276.5" x2="523.9" y2="281.5" stroke="#222" stroke-width="0.9" />
<ellipse cx="523.9" cy="279" rx="1.5" ry="1.5750000000000002" fill="#1a1a1a"/>
<line x1="546.2" y1="278" x2="546.2" y2="283" stroke="#222" stroke-width="0.9" />
<ellipse cx="546.2" cy="280.5" rx="1.5" ry="1.5750000000000002" fill="#1a1a1a"/>
<line x1="590.8" y1="272" x2="590.8" y2="277" stroke="#222" stroke-width="0.9" />
<ellipse cx="590.8" cy="274.5" rx="1.5" ry="1.5750000000000002" fill="#1a1a1a"/>
<line x1="635.4" y1="269.9" x2="635.4" y2="274.9" stroke="#222" stroke-width="0.9" />
<ellipse cx="635.4" cy="272.4" rx="1.5" ry="1.5750000000000002" fill="#1a1a1a"/>
<line x1="665.5" y1="268.4" x2="665.5" y2="273.4" stroke="#222" stroke-width="0.9" />
<ellipse cx="665.5" cy="270.9" rx="1.5" ry="1.5750000000000002" fill="#1a1a1a"/>
<line x1="425.78" y1="273.5" x2="425.78" y2="281" stroke="#1a1a1a" stroke-width="0.95" />
<rect x="424.33" y="274.5" width="2.9" height="4" rx="0.7" fill="#8a8a8a" stroke="#151515" stroke-width="0.95"/>
<line x1="424.33" y1="277.1" x2="427.23" y2="277.1" stroke="#222" stroke-width="0.7" />
<circle cx="425.78" cy="273.5" r="0.65" fill="#1a1a1a"/>
<circle cx="425.78" cy="281" r="0.65" fill="#1a1a1a"/>
<line x1="479.3" y1="277.8" x2="479.3" y2="283.5" stroke="#1a1a1a" stroke-width="0.95" />
<rect x="477.85" y="278.6" width="2.9" height="3.8" rx="0.7" fill="#8a8a8a" stroke="#151515" stroke-width="0.95"/>
<line x1="477.85" y1="281.07" x2="480.75" y2="281.07" stroke="#222" stroke-width="0.7" />
<circle cx="479.3" cy="277.8" r="0.65" fill="#1a1a1a"/>
<circle cx="479.3" cy="283.5" r="0.65" fill="#1a1a1a"/>
<line x1="412.4" y1="344.5" x2="412.4" y2="349.3" stroke="#222" stroke-width="0.9" />
<ellipse cx="412.4" cy="346.7" rx="1.5" ry="1.5750000000000002" fill="#1a1a1a"/>
<line x1="421.32" y1="344.7" x2="421.32" y2="349.5" stroke="#222" stroke-width="0.9" />
<ellipse cx="421.32" cy="346.9" rx="1.5" ry="1.5750000000000002" fill="#1a1a1a"/>
<line x1="425.78" y1="344.5" x2="425.78" y2="349.3" stroke="#222" stroke-width="0.9" />
<ellipse cx="425.78" cy="346.7" rx="1.5" ry="1.5750000000000002" fill="#1a1a1a"/>
<line x1="439.16" y1="345.3" x2="439.16" y2="350.1" stroke="#222" stroke-width="0.9" />
<ellipse cx="439.16" cy="347.5" rx="1.5" ry="1.5750000000000002" fill="#1a1a1a"/>
<line x1="479.3" y1="344.7" x2="479.3" y2="349.5" stroke="#222" stroke-width="0.9" />
<ellipse cx="479.3" cy="346.9" rx="1.5" ry="1.5750000000000002" fill="#1a1a1a"/>
<line x1="501.6" y1="344.8" x2="501.6" y2="349.6" stroke="#222" stroke-width="0.9" />
<ellipse cx="501.6" cy="347" rx="1.5" ry="1.5750000000000002" fill="#1a1a1a"/>
<line x1="546.2" y1="343.3" x2="546.2" y2="348.1" stroke="#222" stroke-width="0.9" />
<ellipse cx="546.2" cy="345.5" rx="1.5" ry="1.5750000000000002" fill="#1a1a1a"/>
<line x1="590.8" y1="345.7" x2="590.8" y2="350.5" stroke="#222" stroke-width="0.9" />
<ellipse cx="590.8" cy="347.9" rx="1.5" ry="1.5750000000000002" fill="#1a1a1a"/>
<line x1="635.4" y1="345.1" x2="635.4" y2="349.9" stroke="#222" stroke-width="0.9" />
<ellipse cx="635.4" cy="347.3" rx="1.5" ry="1.5750000000000002" fill="#1a1a1a"/>
<line x1="665.5" y1="344.2" x2="665.5" y2="349" stroke="#222" stroke-width="0.9" />
<ellipse cx="665.5" cy="346.4" rx="1.5" ry="1.5750000000000002" fill="#1a1a1a"/>
<line x1="416.86" y1="343.5" x2="416.86" y2="353.8" stroke="#1a1a1a" stroke-width="0.95" />
<rect x="415.41" y="346" width="2.9" height="5.5" fill="#fff" fill-opacity="0.35"/>
<rect x="415.41" y="346" width="2.9" height="5.5" rx="0.7" fill="none" stroke="#151515" stroke-width="0.95"/>
<line x1="415.41" y1="349.57" x2="418.31" y2="349.57" stroke="#222" stroke-width="0.7" />
<circle cx="416.86" cy="343.5" r="0.65" fill="#1a1a1a"/>
<circle cx="416.86" cy="353.8" r="0.65" fill="#1a1a1a"/>
<line x1="430.24" y1="346.5" x2="430.24" y2="351.5" stroke="#1a1a1a" stroke-width="0.95" />
<rect x="428.79" y="347.2" width="2.9" height="3" rx="0.7" fill="#8a8a8a" stroke="#151515" stroke-width="0.95"/>
<line x1="428.79" y1="349.15" x2="431.69" y2="349.15" stroke="#222" stroke-width="0.7" />
<circle cx="430.24" cy="346.5" r="0.65" fill="#1a1a1a"/>
<circle cx="430.24" cy="351.5" r="0.65" fill="#1a1a1a"/>
<line x1="448.08" y1="344.3" x2="448.08" y2="352" stroke="#1a1a1a" stroke-width="0.95" />
<rect x="446.63" y="345" width="2.9" height="6" fill="#fff" fill-opacity="0.35"/>
<rect x="446.63" y="345" width="2.9" height="6" rx="0.7" fill="none" stroke="#151515" stroke-width="0.95"/>
<line x1="446.63" y1="348.9" x2="449.53" y2="348.9" stroke="#222" stroke-width="0.7" />
<circle cx="448.08" cy="344.3" r="0.65" fill="#1a1a1a"/>
<circle cx="448.08" cy="352" r="0.65" fill="#1a1a1a"/>
<line x1="457" y1="345.5" x2="457" y2="353.5" stroke="#1a1a1a" stroke-width="0.95" />
<rect x="455.55" y="346.5" width="2.9" height="5" fill="#fff" fill-opacity="0.35"/>
<rect x="455.55" y="346.5" width="2.9" height="5" rx="0.7" fill="none" stroke="#151515" stroke-width="0.95"/>
<line x1="455.55" y1="349.75" x2="458.45" y2="349.75" stroke="#222" stroke-width="0.7" />
<circle cx="457" cy="345.5" r="0.65" fill="#1a1a1a"/>
<circle cx="457" cy="353.5" r="0.65" fill="#1a1a1a"/>
<line x1="465.92" y1="346" x2="465.92" y2="354" stroke="#1a1a1a" stroke-width="0.95" />
<rect x="464.47" y="347" width="2.9" height="4.8" fill="#fff" fill-opacity="0.35"/>
<rect x="464.47" y="347" width="2.9" height="4.8" rx="0.7" fill="none" stroke="#151515" stroke-width="0.95"/>
<line x1="464.47" y1="350.12" x2="467.37" y2="350.12" stroke="#222" stroke-width="0.7" />
<circle cx="465.92" cy="346" r="0.65" fill="#1a1a1a"/>
<circle cx="465.92" cy="354" r="0.65" fill="#1a1a1a"/>
<line x1="523.9" y1="346.5" x2="523.9" y2="353.5" stroke="#1a1a1a" stroke-width="0.95" />
<rect x="522.45" y="347" width="2.9" height="4.8" fill="#fff" fill-opacity="0.35"/>
<rect x="522.45" y="347" width="2.9" height="4.8" rx="0.7" fill="none" stroke="#151515" stroke-width="0.95"/>
<line x1="522.45" y1="350.12" x2="525.35" y2="350.12" stroke="#222" stroke-width="0.7" />
<circle cx="523.9" cy="346.5" r="0.65" fill="#1a1a1a"/>
<circle cx="523.9" cy="353.5" r="0.65" fill="#1a1a1a"/>
<text stroke="#3d72c8" stroke-width="0.12" x="428.3" y="19" font-size="8.5" fill="#3d72c8">~ 3 Mrad(Si)</text>
<text stroke="#1c1c1c" stroke-width="0.12" x="612.6" y="265" font-size="8" fill="#1c1c1c" text-anchor="start" >10 % VDD</text>
<text stroke="#1c1c1c" stroke-width="0.12" x="630.3" y="294.3" font-size="8" fill="#1c1c1c" text-anchor="start" >0.2 V</text>
<path d="M657.2,258.4 L657.2,264" stroke="#1c1c1c" stroke-width="0.9" fill="none"/><path d="M655.6,263.2 L657.2,267.2 L658.8,263.2 Z" fill="#1c1c1c"/>
<path d="M657.2,294 L657.2,288.5" stroke="#1c1c1c" stroke-width="0.9" fill="none"/><path d="M655.6,289.3 L657.2,285.3 L658.8,289.3 Z" fill="#1c1c1c"/>
<text stroke="#1c1c1c" stroke-width="0.12" x="599.7" y="338.3" font-size="8" fill="#1c1c1c">3 pA ~ 26.8 fA µm<tspan font-size="5.5" dy="-3.3">-2</tspan></text>
<text stroke="#1c1c1c" stroke-width="0.12" transform="translate(366.7,35.2) rotate(-90)" font-size="9.8" fill="#1c1c1c" text-anchor="middle"><tspan font-style="italic">I</tspan><tspan font-size="7" dy="2">on</tspan><tspan dy="-2"> (µA µm</tspan><tspan font-size="6.5" dy="-4.3">-1</tspan><tspan dy="4.3">)</tspan></text>
<text stroke="#1c1c1c" stroke-width="0.12" transform="translate(366.7,93.5) rotate(-90)" font-size="9.8" fill="#1c1c1c" text-anchor="middle"><tspan font-style="italic">I</tspan><tspan font-size="7" dy="2">off</tspan><tspan dy="-2"> (A µm</tspan><tspan font-size="6.5" dy="-4.3">-1</tspan><tspan dy="4.3">)</tspan></text>
<text stroke="#1c1c1c" stroke-width="0.12" transform="translate(366.7,150.8) rotate(-90)" font-size="9.8" fill="#1c1c1c" text-anchor="middle">SS (mV dec<tspan font-size="6.5" dy="-4.3">-1</tspan><tspan dy="4.3">)</tspan></text>
<text stroke="#1c1c1c" stroke-width="0.12" transform="translate(366.7,212.4) rotate(-90)" font-size="9.8" fill="#1c1c1c" text-anchor="middle">D/G ratio</text>
<text stroke="#1c1c1c" stroke-width="0.12" transform="translate(366.7,270.7) rotate(-90)" font-size="9.8" fill="#1c1c1c" text-anchor="middle">Δ<tspan font-style="italic">V</tspan><tspan font-size="7" dy="2">th</tspan><tspan dy="-2"> (V)</tspan></text>
<text stroke="#1c1c1c" stroke-width="0.12" transform="translate(366.7,330) rotate(-90)" font-size="9.8" fill="#1c1c1c" text-anchor="middle"><tspan font-style="italic">I</tspan><tspan font-size="7" dy="2">gs</tspan><tspan dy="-2"> (A)</tspan></text>
<text stroke="#111" stroke-width="0.12" x="346.3" y="8" font-size="11" font-weight="bold" fill="#111">e</text>
<rect x="36.5" y="194.5" width="125.1" height="174.2" fill="none" stroke="#4a4a4a" stroke-width="1" stroke-dasharray="4.6,3.4"/>
<text stroke="#111" stroke-width="0.12" x="26" y="198.2" font-size="11" font-weight="bold" fill="#111">c</text>
<defs><linearGradient id="sg1" x1="0" y1="0" x2="0" y2="1"><stop offset="0" stop-color="#f4a070"/><stop offset="0.45" stop-color="#f8c4a2"/><stop offset="1" stop-color="#ffffff" stop-opacity="0"/></linearGradient></defs>
<rect x="62.4" y="229.3" width="20.3" height="24" fill="url(#sg1)"/>
<line x1="62.4" y1="229.3" x2="83.2" y2="229.3" stroke="#2a2a2a" stroke-width="1.3" />
<text stroke="#333" stroke-width="0.12" x="72.55" y="242.1" font-size="10" fill="#333" text-anchor="middle">S</text>
<line x1="83.73" y1="208.3" x2="84.94" y2="209.11" stroke="#2aa860" stroke-width="1.15" stroke-dasharray="2.4,0.9"/>
<line x1="83.84" y1="210.6" x2="85.62" y2="211.65" stroke="#2aa860" stroke-width="1.15" stroke-dasharray="2.4,0.9"/>
<line x1="83.93" y1="212.9" x2="86.17" y2="214.14" stroke="#2aa860" stroke-width="1.15" stroke-dasharray="2.4,0.9"/>
<line x1="84.02" y1="215.2" x2="86.72" y2="216.63" stroke="#2aa860" stroke-width="1.15" stroke-dasharray="2.4,0.9"/>
<line x1="84.11" y1="217.5" x2="87.27" y2="219.13" stroke="#2aa860" stroke-width="1.15" stroke-dasharray="2.4,0.9"/>
<line x1="84.21" y1="219.8" x2="87.82" y2="221.62" stroke="#2aa860" stroke-width="1.15" stroke-dasharray="2.4,0.9"/>
<line x1="84.44" y1="222.1" x2="88.28" y2="224.01" stroke="#2aa860" stroke-width="1.15" stroke-dasharray="2.4,0.9"/>
<line x1="84.67" y1="224.4" x2="88.74" y2="226.41" stroke="#2aa860" stroke-width="1.15" stroke-dasharray="2.4,0.9"/>
<line x1="84.9" y1="226.7" x2="89.2" y2="228.81" stroke="#2aa860" stroke-width="1.15" stroke-dasharray="2.4,0.9"/>
<line x1="85.13" y1="229" x2="89.66" y2="231.2" stroke="#2aa860" stroke-width="1.15" stroke-dasharray="2.4,0.9"/>
<line x1="85.49" y1="231.3" x2="90.52" y2="233.71" stroke="#2aa860" stroke-width="1.15" stroke-dasharray="2.4,0.9"/>
<line x1="85.9" y1="233.6" x2="91.56" y2="236.27" stroke="#2aa860" stroke-width="1.15" stroke-dasharray="2.4,0.9"/>
<line x1="86.32" y1="235.9" x2="92.59" y2="238.84" stroke="#2aa860" stroke-width="1.15" stroke-dasharray="2.4,0.9"/>
<line x1="86.73" y1="238.2" x2="93.63" y2="241.4" stroke="#2aa860" stroke-width="1.15" stroke-dasharray="2.4,0.9"/>
<line x1="87.24" y1="240.5" x2="94.52" y2="243.86" stroke="#2aa860" stroke-width="1.15" stroke-dasharray="2.4,0.9"/>
<line x1="87.93" y1="242.8" x2="95.14" y2="246.13" stroke="#2aa860" stroke-width="1.15" stroke-dasharray="2.4,0.9"/>
<line x1="88.62" y1="245.1" x2="95.76" y2="248.4" stroke="#2aa860" stroke-width="1.15" stroke-dasharray="2.4,0.9"/>
<line x1="89.31" y1="247.4" x2="96.38" y2="250.67" stroke="#2aa860" stroke-width="1.15" stroke-dasharray="2.4,0.9"/>
<line x1="90" y1="249.7" x2="97" y2="252.94" stroke="#2aa860" stroke-width="1.15" stroke-dasharray="2.4,0.9"/>
<path d="M83,200.3 L83.6,204.88 L84.21,208.89 L84.81,212.4 L85.42,215.47 L86.02,218.16 L86.62,220.51 L87.23,222.57 L87.83,224.37 L88.44,225.94 L89.04,227.32 L89.65,228.53 L90.25,229.59 L90.85,230.51 L91.46,231.32 L92.06,232.03 L92.67,232.65 L93.27,233.19 L93.88,233.67 L94.48,234.08 L95.08,234.45 L95.69,234.76 L96.29,235.04 L96.9,235.29 L97.5,235.5 L123.8,235.5" fill="none" stroke="#2a2a2a" stroke-width="1.4"/>
<path d="M83,200.3 L83,237 L83,237 L83.6,240.55 L84.21,243.73 L84.81,246.59 L85.42,249.16 L86.02,251.46 L86.62,253.52 L87.23,255.37 L87.83,257.04 L88.44,258.53 L89.04,259.87 L89.65,261.07 L90.25,262.15 L90.85,263.11 L91.46,263.98 L92.06,264.76 L92.67,265.46 L93.27,266.09 L93.88,266.65 L94.48,267.15 L95.08,267.61 L95.69,268.01 L96.29,268.38 L96.9,268.71 L97.5,269 L123.8,269" fill="none" stroke="#2a2a2a" stroke-width="1.4" stroke-linejoin="round"/>
<circle cx="70.2" cy="225.3" r="2.1" fill="#f29a64"/>
<line x1="75.5" y1="225.4" x2="92.5" y2="225.4" stroke="#f29a64" stroke-width="1.2" />
<path d="M95.5,225.4 L92.62,226.79 L92.62,224.01 Z" fill="#f29a64"/>
<text stroke="#ef8a4c" stroke-width="0.12" x="88.6" y="221.8" font-size="9.5" fill="#ef8a4c">e<tspan font-size="6" dy="-3.6">-</tspan></text>
<circle cx="102" cy="226.6" r="2.1" fill="#f29a64"/>
<circle cx="109.8" cy="226.6" r="2.1" fill="#f29a64"/>
<circle cx="117.5" cy="226.6" r="2.1" fill="#f29a64"/>
<circle cx="98.1" cy="232.2" r="2.1" fill="#f29a64"/>
<circle cx="105.9" cy="232.2" r="2.1" fill="#f29a64"/>
<circle cx="113.7" cy="232.2" r="2.1" fill="#f29a64"/>
<circle cx="121.5" cy="232.2" r="2.1" fill="#f29a64"/>
<text stroke="#222" stroke-width="0.12" x="95.2" y="281.6" font-size="9" fill="#222" text-anchor="middle" >on state</text>
<defs><linearGradient id="sg2" x1="0" y1="0" x2="0" y2="1"><stop offset="0" stop-color="#f4a070"/><stop offset="0.45" stop-color="#f8c4a2"/><stop offset="1" stop-color="#ffffff" stop-opacity="0"/></linearGradient></defs>
<rect x="62.4" y="332.4" width="20.3" height="24" fill="url(#sg2)"/>
<line x1="62.4" y1="332.4" x2="83.2" y2="332.4" stroke="#2a2a2a" stroke-width="1.3" />
<text stroke="#333" stroke-width="0.12" x="72.55" y="345.2" font-size="10" fill="#333" text-anchor="middle">S</text>
<path d="M83.5,308 L84.49,309.28 L85.48,310.45 L86.47,311.52 L87.47,312.49 L88.46,313.38 L89.45,314.18 L90.44,314.92 L91.43,315.6 L92.42,316.21 L93.42,316.77 L94.41,317.29 L95.4,317.75 L96.39,318.18 L97.38,318.57 L98.38,318.92 L99.37,319.25 L100.36,319.54 L101.35,319.81 L102.34,320.06 L103.33,320.28 L104.33,320.49 L105.32,320.67 L106.31,320.84 L107.3,321" fill="none" stroke="#2aa860" stroke-width="0.9" stroke-dasharray="1.2,1.1"/>
<path d="M83.5,311.6 L84.49,312.84 L85.48,313.97 L86.47,315 L87.47,315.94 L88.46,316.79 L89.45,317.56 L90.44,318.26 L91.43,318.9 L92.42,319.48 L93.42,320 L94.41,320.47 L95.4,320.9 L96.39,321.29 L97.38,321.64 L98.38,321.96 L99.37,322.25 L100.36,322.51 L101.35,322.74 L102.34,322.95 L103.33,323.13 L104.33,323.3 L105.32,323.45 L106.31,323.58 L107.3,323.7" fill="none" stroke="#2aa860" stroke-width="0.9" stroke-dasharray="1.2,1.1"/>
<path d="M83.5,315.2 L84.49,316.41 L85.48,317.5 L86.47,318.49 L87.47,319.39 L88.46,320.2 L89.45,320.93 L90.44,321.6 L91.43,322.2 L92.42,322.74 L93.42,323.22 L94.41,323.66 L95.4,324.05 L96.39,324.4 L97.38,324.72 L98.38,325 L99.37,325.25 L100.36,325.47 L101.35,325.66 L102.34,325.83 L103.33,325.98 L104.33,326.11 L105.32,326.22 L106.31,326.32 L107.3,326.4" fill="none" stroke="#2aa860" stroke-width="0.9" stroke-dasharray="1.2,1.1"/>
<path d="M83.5,318.8 L84.49,319.97 L85.48,321.02 L86.47,321.98 L87.47,322.84 L88.46,323.61 L89.45,324.31 L90.44,324.94 L91.43,325.5 L92.42,326 L93.42,326.45 L94.41,326.85 L95.4,327.2 L96.39,327.52 L97.38,327.79 L98.38,328.04 L99.37,328.25 L100.36,328.43 L101.35,328.59 L102.34,328.72 L103.33,328.83 L104.33,328.92 L105.32,329 L106.31,329.06 L107.3,329.1" fill="none" stroke="#2aa860" stroke-width="0.9" stroke-dasharray="1.2,1.1"/>
<path d="M83.5,322.4 L84.49,323.53 L85.48,324.55 L86.47,325.47 L87.47,326.29 L88.46,327.03 L89.45,327.68 L90.44,328.27 L91.43,328.8 L92.42,329.26 L93.42,329.67 L94.41,330.04 L95.4,330.35 L96.39,330.63 L97.38,330.87 L98.38,331.07 L99.37,331.25 L100.36,331.39 L101.35,331.51 L102.34,331.61 L103.33,331.68 L104.33,331.74 L105.32,331.77 L106.31,331.79 L107.3,331.8" fill="none" stroke="#2aa860" stroke-width="0.9" stroke-dasharray="1.2,1.1"/>
<path d="M83.5,326 L84.49,327.09 L85.48,328.07 L86.47,328.95 L87.47,329.74 L88.46,330.44 L89.45,331.06 L90.44,331.61 L91.43,332.1 L92.42,332.53 L93.42,332.9 L94.41,333.22 L95.4,333.5 L96.39,333.74 L97.38,333.94 L98.38,334.11 L99.37,334.25 L100.36,334.36 L101.35,334.44 L102.34,334.5 L103.33,334.53 L104.33,334.55 L105.32,334.55 L106.31,334.53 L107.3,334.5" fill="none" stroke="#2aa860" stroke-width="0.9" stroke-dasharray="1.2,1.1"/>
<path d="M82.7,303 L83.69,304.28 L84.68,305.45 L85.67,306.52 L86.67,307.49 L87.66,308.38 L88.65,309.18 L89.64,309.92 L90.63,310.6 L91.62,311.21 L92.62,311.77 L93.61,312.29 L94.6,312.75 L95.59,313.18 L96.58,313.57 L97.58,313.92 L98.57,314.25 L99.56,314.54 L100.55,314.81 L101.54,315.06 L102.53,315.28 L103.53,315.49 L104.52,315.67 L105.51,315.84 L106.5,316 L133,316" fill="none" stroke="#2a2a2a" stroke-width="1.4"/>
<path d="M82.7,303 L82.7,335.5 L82.7,335.5 L83.67,336.73 L84.64,337.86 L85.61,338.9 L86.58,339.86 L87.55,340.74 L88.53,341.55 L89.5,342.3 L90.47,342.98 L91.44,343.62 L92.41,344.2 L93.38,344.73 L94.35,345.22 L95.32,345.68 L96.29,346.09 L97.26,346.47 L98.23,346.83 L99.2,347.15 L100.17,347.45 L101.15,347.72 L102.12,347.98 L103.09,348.21 L104.06,348.42 L105.03,348.62 L106,348.8 L133,348.8" fill="none" stroke="#2a2a2a" stroke-width="1.4" stroke-linejoin="round"/>
<circle cx="74.4" cy="327.8" r="2.1" fill="#f29a64"/>
<path d="M75.4,324.8 Q77.8,313.5 90.3,309.9" fill="none" stroke="#f29a64" stroke-width="1.3"/>
<path d="M93,309.2 L90.66,311.38 L89.84,308.72 Z" fill="#f29a64"/>
<circle cx="99.8" cy="309.9" r="2.1" fill="#f29a64"/>
<text stroke="#ef8a4c" stroke-width="0.12" x="70.8" y="319.2" font-size="9.5" fill="#ef8a4c">e<tspan font-size="6" dy="-3.6">-</tspan></text>
<text stroke="#222" stroke-width="0.12" x="95.5" y="363.6" font-size="9" fill="#222" text-anchor="middle" >off state</text>
<rect x="200.9" y="194.5" width="124.6" height="174.2" fill="none" stroke="#4a4a4a" stroke-width="1" stroke-dasharray="4.6,3.4"/>
<text stroke="#111" stroke-width="0.12" x="189.4" y="198" font-size="11" font-weight="bold" fill="#111">d</text>
<defs><linearGradient id="sg3" x1="0" y1="0" x2="0" y2="1"><stop offset="0" stop-color="#f4a070"/><stop offset="0.45" stop-color="#f8c4a2"/><stop offset="1" stop-color="#ffffff" stop-opacity="0"/></linearGradient></defs>
<rect x="225.9" y="229.1" width="20.6" height="24" fill="url(#sg3)"/>
<line x1="225.9" y1="229.1" x2="247" y2="229.1" stroke="#2a2a2a" stroke-width="1.3" />
<text stroke="#333" stroke-width="0.12" x="236.2" y="241.9" font-size="10" fill="#333" text-anchor="middle">S</text>
<path d="M247.7,199.9 L248.26,204.27 L248.82,208.12 L249.39,211.52 L249.95,214.52 L250.51,217.16 L251.07,219.5 L251.64,221.56 L252.2,223.38 L252.76,224.99 L253.32,226.41 L253.89,227.66 L254.45,228.76 L255.01,229.73 L255.57,230.59 L256.14,231.35 L256.7,232.02 L257.26,232.61 L257.82,233.13 L258.39,233.59 L258.95,234 L259.51,234.36" fill="none" stroke="#2aa860" stroke-width="1.3" stroke-dasharray="1.2,0.8"/>
<path d="M246.5,200.3 L247.06,204.67 L247.62,208.52 L248.19,211.92 L248.75,214.92 L249.31,217.56 L249.88,219.9 L250.44,221.96 L251,223.78 L251.56,225.39 L252.12,226.81 L252.69,228.06 L253.25,229.16 L253.81,230.13 L254.38,230.99 L254.94,231.75 L255.5,232.42 L256.06,233.01 L256.62,233.53 L257.19,233.99 L257.75,234.4 L258.31,234.76 L258.88,235.07 L259.44,235.35 L260,235.6 L287.2,235.6" fill="none" stroke="#2a2a2a" stroke-width="1.4"/>
<path d="M246.5,200.3 L246.5,236 L246.5,236 L247.06,239.64 L247.62,242.9 L248.19,245.83 L248.75,248.46 L249.31,250.82 L249.88,252.93 L250.44,254.83 L251,256.54 L251.56,258.07 L252.12,259.44 L252.69,260.67 L253.25,261.78 L253.81,262.77 L254.38,263.66 L254.94,264.45 L255.5,265.17 L256.06,265.81 L256.62,266.39 L257.19,266.91 L257.75,267.37 L258.31,267.79 L258.88,268.16 L259.44,268.5 L260,268.8 L287.2,268.8" fill="none" stroke="#2a2a2a" stroke-width="1.4" stroke-linejoin="round"/>
<circle cx="235.8" cy="225.5" r="2.1" fill="#f29a64"/>
<line x1="240.5" y1="225.5" x2="256.2" y2="225.5" stroke="#f29a64" stroke-width="1.2" />
<path d="M259.3,225.5 L256.42,226.89 L256.42,224.11 Z" fill="#f29a64"/>
<text stroke="#ef8a4c" stroke-width="0.12" x="254.6" y="221.2" font-size="9.5" fill="#ef8a4c">e<tspan font-size="6" dy="-3.6">-</tspan></text>
<circle cx="264.2" cy="227.3" r="2.1" fill="#f29a64"/>
<circle cx="272.2" cy="227.3" r="2.1" fill="#f29a64"/>
<circle cx="280.4" cy="227.3" r="2.1" fill="#f29a64"/>
<circle cx="288.3" cy="227.3" r="2.1" fill="#f29a64"/>
<circle cx="260.8" cy="232.9" r="2.1" fill="#f29a64"/>
<circle cx="268.4" cy="232.9" r="2.1" fill="#f29a64"/>
<circle cx="276.3" cy="232.9" r="2.1" fill="#f29a64"/>
<circle cx="284.1" cy="232.9" r="2.1" fill="#f29a64"/>
<text stroke="#222" stroke-width="0.12" x="258.5" y="281.6" font-size="9" fill="#222" text-anchor="middle" >on state</text>
<defs><linearGradient id="sg4" x1="0" y1="0" x2="0" y2="1"><stop offset="0" stop-color="#f4a070"/><stop offset="0.45" stop-color="#f8c4a2"/><stop offset="1" stop-color="#ffffff" stop-opacity="0"/></linearGradient></defs>
<rect x="225.9" y="332.4" width="20.6" height="24" fill="url(#sg4)"/>
<line x1="225.9" y1="332.4" x2="247" y2="332.4" stroke="#2a2a2a" stroke-width="1.3" />
<text stroke="#333" stroke-width="0.12" x="236.2" y="345.2" font-size="10" fill="#333" text-anchor="middle">S</text>
<path d="M246.8,301 L247.76,302.31 L248.72,303.51 L249.68,304.6 L250.63,305.59 L251.59,306.5 L252.55,307.33 L253.51,308.08 L254.47,308.77 L255.43,309.4 L256.38,309.98 L257.34,310.5 L258.3,310.98 L259.26,311.41 L260.22,311.81 L261.18,312.18 L262.13,312.51 L263.09,312.81 L264.05,313.08 L265.01,313.34 L265.97,313.57 L266.93,313.78 L267.88,313.97 L268.84,314.14" fill="none" stroke="#2aa860" stroke-width="1.4" stroke-dasharray="1.2,0.8"/>
<path d="M246.5,302.4 L247.46,303.71 L248.42,304.91 L249.38,306 L250.33,306.99 L251.29,307.9 L252.25,308.73 L253.21,309.48 L254.17,310.17 L255.12,310.8 L256.08,311.38 L257.04,311.9 L258,312.38 L258.96,312.81 L259.92,313.21 L260.88,313.58 L261.83,313.91 L262.79,314.21 L263.75,314.48 L264.71,314.74 L265.67,314.97 L266.62,315.18 L267.58,315.37 L268.54,315.54 L269.5,315.7 L296.3,315.7" fill="none" stroke="#2a2a2a" stroke-width="1.4"/>
<path d="M246.5,302.4 L246.5,332.4 L246.5,332.4 L247.46,333.82 L248.42,335.14 L249.38,336.36 L250.33,337.49 L251.29,338.54 L252.25,339.52 L253.21,340.43 L254.17,341.26 L255.12,342.04 L256.08,342.77 L257.04,343.44 L258,344.06 L258.96,344.64 L259.92,345.17 L260.88,345.67 L261.83,346.13 L262.79,346.56 L263.75,346.95 L264.71,347.32 L265.67,347.66 L266.62,347.98 L267.58,348.27 L268.54,348.55 L269.5,348.8 L296.3,348.8" fill="none" stroke="#2a2a2a" stroke-width="1.4" stroke-linejoin="round"/>
<circle cx="238.3" cy="327.8" r="2.1" fill="#f29a64"/>
<path d="M238.6,325.2 Q239.6,316 242.6,310.2" fill="none" stroke="#f29a64" stroke-width="1.4" stroke-dasharray="2.4,1.6"/>
<path d="M243.6,307.2 L243.87,310.59 L241.11,309.52 Z" fill="#f29a64"/>
<text stroke="#ef8a4c" stroke-width="0.12" x="230.6" y="319.3" font-size="9.5" fill="#ef8a4c">e<tspan font-size="6" dy="-3.6">-</tspan></text>
<text stroke="#222" stroke-width="0.12" x="259.5" y="363.6" font-size="9" fill="#222" text-anchor="middle" >off state</text>
</svg></body></html>
